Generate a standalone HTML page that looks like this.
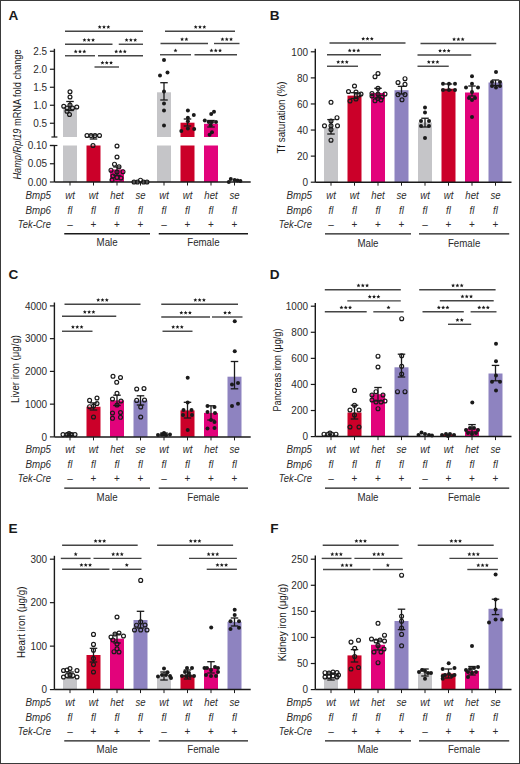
<!DOCTYPE html>
<html><head><meta charset="utf-8"><style>
html,body{margin:0;padding:0;background:#fff;}
body{width:520px;height:764px;overflow:hidden;position:relative;}
svg{display:block;position:absolute;left:0;top:0;}
text{font-family:"Liberation Sans",sans-serif;}
</style></head><body>
<svg width="520" height="764" viewBox="0 0 520 764">
<rect x="0" y="0" width="520" height="764" fill="#fff"/>
<text x="8.40" y="19.90" font-size="13.6" text-anchor="start" font-weight="bold" fill="#1a1a1a" >A</text>
<line x1="54.40" y1="48.80" x2="54.40" y2="137.00" stroke="#1a1a1a" stroke-width="1.4"/>
<line x1="49.90" y1="51.25" x2="54.40" y2="51.25" stroke="#1a1a1a" stroke-width="1.2"/>
<text transform="translate(47.10,54.95) scale(0.95,1)" font-size="10.5" text-anchor="end" fill="#2b2b2b" >2.5</text>
<line x1="49.90" y1="69.25" x2="54.40" y2="69.25" stroke="#1a1a1a" stroke-width="1.2"/>
<text transform="translate(47.10,72.95) scale(0.95,1)" font-size="10.5" text-anchor="end" fill="#2b2b2b" >2.0</text>
<line x1="49.90" y1="87.25" x2="54.40" y2="87.25" stroke="#1a1a1a" stroke-width="1.2"/>
<text transform="translate(47.10,90.95) scale(0.95,1)" font-size="10.5" text-anchor="end" fill="#2b2b2b" >1.5</text>
<line x1="49.90" y1="105.25" x2="54.40" y2="105.25" stroke="#1a1a1a" stroke-width="1.2"/>
<text transform="translate(47.10,108.95) scale(0.95,1)" font-size="10.5" text-anchor="end" fill="#2b2b2b" >1.0</text>
<line x1="49.90" y1="123.25" x2="54.40" y2="123.25" stroke="#1a1a1a" stroke-width="1.2"/>
<text transform="translate(47.10,126.95) scale(0.95,1)" font-size="10.5" text-anchor="end" fill="#2b2b2b" >0.5</text>
<line x1="51.40" y1="137.00" x2="57.40" y2="137.00" stroke="#1a1a1a" stroke-width="1.2"/>
<line x1="54.40" y1="145.50" x2="54.40" y2="182.00" stroke="#1a1a1a" stroke-width="1.4"/>
<line x1="49.90" y1="145.50" x2="57.40" y2="145.50" stroke="#1a1a1a" stroke-width="1.2"/>
<line x1="49.90" y1="145.50" x2="54.40" y2="145.50" stroke="#1a1a1a" stroke-width="1.2"/>
<text transform="translate(47.10,149.20) scale(0.95,1)" font-size="10.5" text-anchor="end" fill="#2b2b2b" >0.10</text>
<line x1="49.90" y1="163.75" x2="54.40" y2="163.75" stroke="#1a1a1a" stroke-width="1.2"/>
<text transform="translate(47.10,167.45) scale(0.95,1)" font-size="10.5" text-anchor="end" fill="#2b2b2b" >0.05</text>
<line x1="49.90" y1="182.00" x2="54.40" y2="182.00" stroke="#1a1a1a" stroke-width="1.2"/>
<text transform="translate(47.10,185.70) scale(0.95,1)" font-size="10.5" text-anchor="end" fill="#2b2b2b" >0.00</text>
<text transform="translate(21.00,114.50) rotate(-90)" font-size="11.2" text-anchor="middle" textLength="130" lengthAdjust="spacingAndGlyphs" fill="#1a1a1a"><tspan font-style="italic">Hamp/Rpl19</tspan> mRNA fold change</text>
<rect x="63.00" y="106.69" width="14.00" height="30.31" fill="#c5c5c8"/>
<rect x="63.00" y="145.50" width="14.00" height="36.50" fill="#c5c5c8"/>
<rect x="86.50" y="145.50" width="14.00" height="36.50" fill="#cb0029"/>
<rect x="110.00" y="169.50" width="14.00" height="12.50" fill="#e2037b"/>
<rect x="157.00" y="92.30" width="14.00" height="44.70" fill="#c5c5c8"/>
<rect x="157.00" y="145.50" width="14.00" height="36.50" fill="#c5c5c8"/>
<rect x="180.50" y="122.70" width="14.00" height="14.30" fill="#cb0029"/>
<rect x="180.50" y="145.50" width="14.00" height="36.50" fill="#cb0029"/>
<rect x="204.00" y="123.80" width="14.00" height="13.20" fill="#e2037b"/>
<rect x="204.00" y="145.50" width="14.00" height="36.50" fill="#e2037b"/>
<line x1="54.40" y1="182.00" x2="250.70" y2="182.00" stroke="#1a1a1a" stroke-width="1.5"/>
<line x1="70.00" y1="182.00" x2="70.00" y2="185.50" stroke="#1a1a1a" stroke-width="1.0"/>
<line x1="93.50" y1="182.00" x2="93.50" y2="185.50" stroke="#1a1a1a" stroke-width="1.0"/>
<line x1="117.00" y1="182.00" x2="117.00" y2="185.50" stroke="#1a1a1a" stroke-width="1.0"/>
<line x1="140.50" y1="182.00" x2="140.50" y2="185.50" stroke="#1a1a1a" stroke-width="1.0"/>
<line x1="164.00" y1="182.00" x2="164.00" y2="185.50" stroke="#1a1a1a" stroke-width="1.0"/>
<line x1="187.50" y1="182.00" x2="187.50" y2="185.50" stroke="#1a1a1a" stroke-width="1.0"/>
<line x1="211.00" y1="182.00" x2="211.00" y2="185.50" stroke="#1a1a1a" stroke-width="1.0"/>
<line x1="234.50" y1="182.00" x2="234.50" y2="185.50" stroke="#1a1a1a" stroke-width="1.0"/>
<text transform="translate(51.00,199.20) scale(0.93,1)" font-size="10.5" text-anchor="end" font-style="italic" fill="#2b2b2b" >Bmp5</text>
<text transform="translate(51.00,213.70) scale(0.93,1)" font-size="10.5" text-anchor="end" font-style="italic" fill="#2b2b2b" >Bmp6</text>
<text transform="translate(51.00,228.00) scale(0.9,1)" font-size="10.5" text-anchor="end" font-style="italic" fill="#2b2b2b" >Tek-Cre</text>
<text transform="translate(70.00,199.20) scale(0.93,1)" font-size="10.3" text-anchor="middle" font-style="italic" fill="#2b2b2b" >wt</text>
<text transform="translate(70.00,213.70) scale(0.93,1)" font-size="10.3" text-anchor="middle" font-style="italic" fill="#2b2b2b" >fl</text>
<text x="70.00" y="228.00" font-size="10" text-anchor="middle" fill="#2b2b2b" >–</text>
<text transform="translate(93.50,199.20) scale(0.93,1)" font-size="10.3" text-anchor="middle" font-style="italic" fill="#2b2b2b" >wt</text>
<text transform="translate(93.50,213.70) scale(0.93,1)" font-size="10.3" text-anchor="middle" font-style="italic" fill="#2b2b2b" >fl</text>
<text x="93.50" y="228.00" font-size="10" text-anchor="middle" fill="#2b2b2b" >+</text>
<text transform="translate(117.00,199.20) scale(0.93,1)" font-size="10.3" text-anchor="middle" font-style="italic" fill="#2b2b2b" >het</text>
<text transform="translate(117.00,213.70) scale(0.93,1)" font-size="10.3" text-anchor="middle" font-style="italic" fill="#2b2b2b" >fl</text>
<text x="117.00" y="228.00" font-size="10" text-anchor="middle" fill="#2b2b2b" >+</text>
<text transform="translate(140.50,199.20) scale(0.93,1)" font-size="10.3" text-anchor="middle" font-style="italic" fill="#2b2b2b" >se</text>
<text transform="translate(140.50,213.70) scale(0.93,1)" font-size="10.3" text-anchor="middle" font-style="italic" fill="#2b2b2b" >fl</text>
<text x="140.50" y="228.00" font-size="10" text-anchor="middle" fill="#2b2b2b" >+</text>
<text transform="translate(164.00,199.20) scale(0.93,1)" font-size="10.3" text-anchor="middle" font-style="italic" fill="#2b2b2b" >wt</text>
<text transform="translate(164.00,213.70) scale(0.93,1)" font-size="10.3" text-anchor="middle" font-style="italic" fill="#2b2b2b" >fl</text>
<text x="164.00" y="228.00" font-size="10" text-anchor="middle" fill="#2b2b2b" >–</text>
<text transform="translate(187.50,199.20) scale(0.93,1)" font-size="10.3" text-anchor="middle" font-style="italic" fill="#2b2b2b" >wt</text>
<text transform="translate(187.50,213.70) scale(0.93,1)" font-size="10.3" text-anchor="middle" font-style="italic" fill="#2b2b2b" >fl</text>
<text x="187.50" y="228.00" font-size="10" text-anchor="middle" fill="#2b2b2b" >+</text>
<text transform="translate(211.00,199.20) scale(0.93,1)" font-size="10.3" text-anchor="middle" font-style="italic" fill="#2b2b2b" >het</text>
<text transform="translate(211.00,213.70) scale(0.93,1)" font-size="10.3" text-anchor="middle" font-style="italic" fill="#2b2b2b" >fl</text>
<text x="211.00" y="228.00" font-size="10" text-anchor="middle" fill="#2b2b2b" >+</text>
<text transform="translate(234.50,199.20) scale(0.93,1)" font-size="10.3" text-anchor="middle" font-style="italic" fill="#2b2b2b" >se</text>
<text transform="translate(234.50,213.70) scale(0.93,1)" font-size="10.3" text-anchor="middle" font-style="italic" fill="#2b2b2b" >fl</text>
<text x="234.50" y="228.00" font-size="10" text-anchor="middle" fill="#2b2b2b" >+</text>
<line x1="64.25" y1="233.75" x2="150.00" y2="233.75" stroke="#1a1a1a" stroke-width="1.3"/>
<line x1="158.75" y1="233.75" x2="248.00" y2="233.75" stroke="#1a1a1a" stroke-width="1.3"/>
<text transform="translate(107.12,246.35) scale(0.9,1)" font-size="10.8" text-anchor="middle" fill="#2b2b2b" >Male</text>
<text transform="translate(203.38,246.35) scale(0.9,1)" font-size="10.8" text-anchor="middle" fill="#2b2b2b" >Female</text>
<line x1="70.00" y1="101.50" x2="70.00" y2="110.50" stroke="#1a1a1a" stroke-width="1.3"/>
<line x1="66.25" y1="101.50" x2="73.75" y2="101.50" stroke="#1a1a1a" stroke-width="1.3"/>
<line x1="66.25" y1="110.50" x2="73.75" y2="110.50" stroke="#1a1a1a" stroke-width="1.3"/>
<line x1="93.50" y1="135.00" x2="93.50" y2="139.00" stroke="#1a1a1a" stroke-width="1.3"/>
<line x1="89.75" y1="135.00" x2="97.25" y2="135.00" stroke="#1a1a1a" stroke-width="1.3"/>
<line x1="89.75" y1="139.00" x2="97.25" y2="139.00" stroke="#1a1a1a" stroke-width="1.3"/>
<line x1="117.00" y1="167.00" x2="117.00" y2="175.50" stroke="#1a1a1a" stroke-width="1.3"/>
<line x1="113.25" y1="167.00" x2="120.75" y2="167.00" stroke="#1a1a1a" stroke-width="1.3"/>
<line x1="113.25" y1="175.50" x2="120.75" y2="175.50" stroke="#1a1a1a" stroke-width="1.3"/>
<line x1="164.00" y1="82.70" x2="164.00" y2="100.00" stroke="#1a1a1a" stroke-width="1.3"/>
<line x1="160.25" y1="82.70" x2="167.75" y2="82.70" stroke="#1a1a1a" stroke-width="1.3"/>
<line x1="160.25" y1="100.00" x2="167.75" y2="100.00" stroke="#1a1a1a" stroke-width="1.3"/>
<line x1="187.50" y1="119.00" x2="187.50" y2="126.00" stroke="#1a1a1a" stroke-width="1.3"/>
<line x1="183.75" y1="119.00" x2="191.25" y2="119.00" stroke="#1a1a1a" stroke-width="1.3"/>
<line x1="183.75" y1="126.00" x2="191.25" y2="126.00" stroke="#1a1a1a" stroke-width="1.3"/>
<line x1="211.00" y1="120.50" x2="211.00" y2="127.00" stroke="#1a1a1a" stroke-width="1.3"/>
<line x1="207.25" y1="120.50" x2="214.75" y2="120.50" stroke="#1a1a1a" stroke-width="1.3"/>
<line x1="207.25" y1="127.00" x2="214.75" y2="127.00" stroke="#1a1a1a" stroke-width="1.3"/>
<circle cx="70.00" cy="91.75" r="1.95" fill="none" stroke="#1a1a1a" stroke-width="1.2"/>
<circle cx="70.00" cy="97.00" r="1.95" fill="none" stroke="#1a1a1a" stroke-width="1.2"/>
<circle cx="63.75" cy="106.25" r="1.95" fill="none" stroke="#1a1a1a" stroke-width="1.2"/>
<circle cx="67.00" cy="108.00" r="1.95" fill="none" stroke="#1a1a1a" stroke-width="1.2"/>
<circle cx="70.00" cy="105.00" r="1.95" fill="none" stroke="#1a1a1a" stroke-width="1.2"/>
<circle cx="72.50" cy="108.00" r="1.95" fill="none" stroke="#1a1a1a" stroke-width="1.2"/>
<circle cx="76.75" cy="107.00" r="1.95" fill="none" stroke="#1a1a1a" stroke-width="1.2"/>
<circle cx="67.00" cy="111.25" r="1.95" fill="none" stroke="#1a1a1a" stroke-width="1.2"/>
<circle cx="69.50" cy="114.50" r="1.95" fill="none" stroke="#1a1a1a" stroke-width="1.2"/>
<circle cx="87.00" cy="135.50" r="1.95" fill="none" stroke="#1a1a1a" stroke-width="1.2"/>
<circle cx="91.00" cy="135.50" r="1.95" fill="none" stroke="#1a1a1a" stroke-width="1.2"/>
<circle cx="95.00" cy="135.50" r="1.95" fill="none" stroke="#1a1a1a" stroke-width="1.2"/>
<circle cx="99.50" cy="135.50" r="1.95" fill="none" stroke="#1a1a1a" stroke-width="1.2"/>
<circle cx="93.00" cy="145.50" r="1.95" fill="none" stroke="#1a1a1a" stroke-width="1.2"/>
<circle cx="117.00" cy="146.00" r="1.95" fill="none" stroke="#1a1a1a" stroke-width="1.2"/>
<circle cx="117.00" cy="157.00" r="1.95" fill="none" stroke="#1a1a1a" stroke-width="1.2"/>
<circle cx="114.50" cy="164.20" r="1.95" fill="none" stroke="#1a1a1a" stroke-width="1.2"/>
<circle cx="119.00" cy="166.80" r="1.95" fill="none" stroke="#1a1a1a" stroke-width="1.2"/>
<circle cx="111.00" cy="170.20" r="1.95" fill="none" stroke="#1a1a1a" stroke-width="1.2"/>
<circle cx="123.00" cy="171.70" r="1.95" fill="none" stroke="#1a1a1a" stroke-width="1.2"/>
<circle cx="117.00" cy="172.00" r="1.95" fill="none" stroke="#1a1a1a" stroke-width="1.2"/>
<circle cx="113.00" cy="176.00" r="1.95" fill="none" stroke="#1a1a1a" stroke-width="1.2"/>
<circle cx="121.00" cy="178.00" r="1.95" fill="none" stroke="#1a1a1a" stroke-width="1.2"/>
<circle cx="117.00" cy="177.50" r="1.95" fill="none" stroke="#1a1a1a" stroke-width="1.2"/>
<circle cx="112.00" cy="180.00" r="1.95" fill="none" stroke="#1a1a1a" stroke-width="1.2"/>
<circle cx="134.00" cy="182.00" r="1.95" fill="none" stroke="#1a1a1a" stroke-width="1.2"/>
<circle cx="137.50" cy="182.00" r="1.95" fill="none" stroke="#1a1a1a" stroke-width="1.2"/>
<circle cx="140.50" cy="180.20" r="1.95" fill="none" stroke="#1a1a1a" stroke-width="1.2"/>
<circle cx="143.50" cy="182.00" r="1.95" fill="none" stroke="#1a1a1a" stroke-width="1.2"/>
<circle cx="147.00" cy="182.00" r="1.95" fill="none" stroke="#1a1a1a" stroke-width="1.2"/>
<circle cx="164.00" cy="60.00" r="2.0" fill="#1a1a1a"/>
<circle cx="160.00" cy="75.50" r="2.0" fill="#1a1a1a"/>
<circle cx="167.50" cy="72.50" r="2.0" fill="#1a1a1a"/>
<circle cx="164.00" cy="91.50" r="2.0" fill="#1a1a1a"/>
<circle cx="164.00" cy="103.60" r="2.0" fill="#1a1a1a"/>
<circle cx="164.00" cy="110.40" r="2.0" fill="#1a1a1a"/>
<circle cx="164.00" cy="125.60" r="2.0" fill="#1a1a1a"/>
<circle cx="187.90" cy="110.40" r="2.0" fill="#1a1a1a"/>
<circle cx="193.80" cy="115.00" r="2.0" fill="#1a1a1a"/>
<circle cx="187.90" cy="117.70" r="2.0" fill="#1a1a1a"/>
<circle cx="187.90" cy="121.30" r="2.0" fill="#1a1a1a"/>
<circle cx="181.30" cy="131.00" r="2.0" fill="#1a1a1a"/>
<circle cx="187.90" cy="128.50" r="2.0" fill="#1a1a1a"/>
<circle cx="194.20" cy="129.00" r="2.0" fill="#1a1a1a"/>
<circle cx="214.00" cy="111.70" r="2.0" fill="#1a1a1a"/>
<circle cx="211.20" cy="114.00" r="2.0" fill="#1a1a1a"/>
<circle cx="204.80" cy="120.40" r="2.0" fill="#1a1a1a"/>
<circle cx="208.70" cy="122.00" r="2.0" fill="#1a1a1a"/>
<circle cx="212.00" cy="122.00" r="2.0" fill="#1a1a1a"/>
<circle cx="216.00" cy="122.00" r="2.0" fill="#1a1a1a"/>
<circle cx="210.60" cy="125.20" r="2.0" fill="#1a1a1a"/>
<circle cx="212.00" cy="132.30" r="2.0" fill="#1a1a1a"/>
<circle cx="209.60" cy="134.80" r="2.0" fill="#1a1a1a"/>
<circle cx="228.80" cy="182.00" r="2.0" fill="#1a1a1a"/>
<circle cx="230.80" cy="179.00" r="2.0" fill="#1a1a1a"/>
<circle cx="234.60" cy="180.00" r="2.0" fill="#1a1a1a"/>
<circle cx="237.50" cy="180.50" r="2.0" fill="#1a1a1a"/>
<circle cx="240.40" cy="181.00" r="2.0" fill="#1a1a1a"/>
<line x1="65.00" y1="31.25" x2="143.00" y2="31.25" stroke="#444" stroke-width="1.4"/>
<polygon points="99.70,24.95 100.26,26.28 101.70,26.40 100.60,27.34 100.93,28.75 99.70,28.00 98.47,28.75 98.80,27.34 97.70,26.40 99.14,26.28" fill="#1a1a1a"/>
<polygon points="104.00,24.95 104.56,26.28 106.00,26.40 104.90,27.34 105.23,28.75 104.00,28.00 102.77,28.75 103.10,27.34 102.00,26.40 103.44,26.28" fill="#1a1a1a"/>
<polygon points="108.30,24.95 108.86,26.28 110.30,26.40 109.20,27.34 109.53,28.75 108.30,28.00 107.07,28.75 107.40,27.34 106.30,26.40 107.74,26.28" fill="#1a1a1a"/>
<line x1="65.00" y1="44.25" x2="112.50" y2="44.25" stroke="#444" stroke-width="1.4"/>
<polygon points="84.45,37.95 85.01,39.28 86.45,39.40 85.35,40.34 85.68,41.75 84.45,41.00 83.22,41.75 83.55,40.34 82.45,39.40 83.89,39.28" fill="#1a1a1a"/>
<polygon points="88.75,37.95 89.31,39.28 90.75,39.40 89.65,40.34 89.98,41.75 88.75,41.00 87.52,41.75 87.85,40.34 86.75,39.40 88.19,39.28" fill="#1a1a1a"/>
<polygon points="93.05,37.95 93.61,39.28 95.05,39.40 93.95,40.34 94.28,41.75 93.05,41.00 91.82,41.75 92.15,40.34 91.05,39.40 92.49,39.28" fill="#1a1a1a"/>
<line x1="118.75" y1="44.25" x2="143.00" y2="44.25" stroke="#444" stroke-width="1.4"/>
<polygon points="126.58,37.95 127.13,39.28 128.57,39.40 127.48,40.34 127.81,41.75 126.58,41.00 125.34,41.75 125.67,40.34 124.58,39.40 126.02,39.28" fill="#1a1a1a"/>
<polygon points="130.88,37.95 131.43,39.28 132.87,39.40 131.78,40.34 132.11,41.75 130.88,41.00 129.64,41.75 129.97,40.34 128.88,39.40 130.32,39.28" fill="#1a1a1a"/>
<polygon points="135.18,37.95 135.73,39.28 137.17,39.40 136.08,40.34 136.41,41.75 135.18,41.00 133.94,41.75 134.27,40.34 133.18,39.40 134.62,39.28" fill="#1a1a1a"/>
<line x1="65.00" y1="55.75" x2="95.00" y2="55.75" stroke="#444" stroke-width="1.4"/>
<polygon points="75.70,49.45 76.26,50.78 77.70,50.90 76.60,51.84 76.93,53.25 75.70,52.50 74.47,53.25 74.80,51.84 73.70,50.90 75.14,50.78" fill="#1a1a1a"/>
<polygon points="80.00,49.45 80.56,50.78 82.00,50.90 80.90,51.84 81.23,53.25 80.00,52.50 78.77,53.25 79.10,51.84 78.00,50.90 79.44,50.78" fill="#1a1a1a"/>
<polygon points="84.30,49.45 84.86,50.78 86.30,50.90 85.20,51.84 85.53,53.25 84.30,52.50 83.07,53.25 83.40,51.84 82.30,50.90 83.74,50.78" fill="#1a1a1a"/>
<line x1="98.00" y1="55.75" x2="143.00" y2="55.75" stroke="#444" stroke-width="1.4"/>
<polygon points="116.20,49.45 116.76,50.78 118.20,50.90 117.10,51.84 117.43,53.25 116.20,52.50 114.97,53.25 115.30,51.84 114.20,50.90 115.64,50.78" fill="#1a1a1a"/>
<polygon points="120.50,49.45 121.06,50.78 122.50,50.90 121.40,51.84 121.73,53.25 120.50,52.50 119.27,53.25 119.60,51.84 118.50,50.90 119.94,50.78" fill="#1a1a1a"/>
<polygon points="124.80,49.45 125.36,50.78 126.80,50.90 125.70,51.84 126.03,53.25 124.80,52.50 123.57,53.25 123.90,51.84 122.80,50.90 124.24,50.78" fill="#1a1a1a"/>
<line x1="94.50" y1="67.00" x2="119.00" y2="67.00" stroke="#444" stroke-width="1.4"/>
<polygon points="102.45,60.70 103.01,62.03 104.45,62.15 103.35,63.09 103.68,64.50 102.45,63.75 101.22,64.50 101.55,63.09 100.45,62.15 101.89,62.03" fill="#1a1a1a"/>
<polygon points="106.75,60.70 107.31,62.03 108.75,62.15 107.65,63.09 107.98,64.50 106.75,63.75 105.52,64.50 105.85,63.09 104.75,62.15 106.19,62.03" fill="#1a1a1a"/>
<polygon points="111.05,60.70 111.61,62.03 113.05,62.15 111.95,63.09 112.28,64.50 111.05,63.75 109.82,64.50 110.15,63.09 109.05,62.15 110.49,62.03" fill="#1a1a1a"/>
<line x1="165.00" y1="31.25" x2="235.00" y2="31.25" stroke="#444" stroke-width="1.4"/>
<polygon points="195.70,24.95 196.26,26.28 197.70,26.40 196.60,27.34 196.93,28.75 195.70,28.00 194.47,28.75 194.80,27.34 193.70,26.40 195.14,26.28" fill="#1a1a1a"/>
<polygon points="200.00,24.95 200.56,26.28 202.00,26.40 200.90,27.34 201.23,28.75 200.00,28.00 198.77,28.75 199.10,27.34 198.00,26.40 199.44,26.28" fill="#1a1a1a"/>
<polygon points="204.30,24.95 204.86,26.28 206.30,26.40 205.20,27.34 205.53,28.75 204.30,28.00 203.07,28.75 203.40,27.34 202.30,26.40 203.74,26.28" fill="#1a1a1a"/>
<line x1="160.50" y1="43.50" x2="208.00" y2="43.50" stroke="#444" stroke-width="1.4"/>
<polygon points="182.10,37.20 182.66,38.53 184.10,38.65 183.00,39.59 183.33,41.00 182.10,40.25 180.87,41.00 181.20,39.59 180.10,38.65 181.54,38.53" fill="#1a1a1a"/>
<polygon points="186.40,37.20 186.96,38.53 188.40,38.65 187.30,39.59 187.63,41.00 186.40,40.25 185.17,41.00 185.50,39.59 184.40,38.65 185.84,38.53" fill="#1a1a1a"/>
<line x1="214.00" y1="43.50" x2="239.50" y2="43.50" stroke="#444" stroke-width="1.4"/>
<polygon points="222.45,37.20 223.01,38.53 224.45,38.65 223.35,39.59 223.68,41.00 222.45,40.25 221.22,41.00 221.55,39.59 220.45,38.65 221.89,38.53" fill="#1a1a1a"/>
<polygon points="226.75,37.20 227.31,38.53 228.75,38.65 227.65,39.59 227.98,41.00 226.75,40.25 225.52,41.00 225.85,39.59 224.75,38.65 226.19,38.53" fill="#1a1a1a"/>
<polygon points="231.05,37.20 231.61,38.53 233.05,38.65 231.95,39.59 232.28,41.00 231.05,40.25 229.82,41.00 230.15,39.59 229.05,38.65 230.49,38.53" fill="#1a1a1a"/>
<line x1="160.00" y1="54.75" x2="191.00" y2="54.75" stroke="#444" stroke-width="1.4"/>
<polygon points="175.50,48.45 176.06,49.78 177.50,49.90 176.40,50.84 176.73,52.25 175.50,51.50 174.27,52.25 174.60,50.84 173.50,49.90 174.94,49.78" fill="#1a1a1a"/>
<line x1="194.50" y1="54.75" x2="237.00" y2="54.75" stroke="#444" stroke-width="1.4"/>
<polygon points="211.45,48.45 212.01,49.78 213.45,49.90 212.35,50.84 212.68,52.25 211.45,51.50 210.22,52.25 210.55,50.84 209.45,49.90 210.89,49.78" fill="#1a1a1a"/>
<polygon points="215.75,48.45 216.31,49.78 217.75,49.90 216.65,50.84 216.98,52.25 215.75,51.50 214.52,52.25 214.85,50.84 213.75,49.90 215.19,49.78" fill="#1a1a1a"/>
<polygon points="220.05,48.45 220.61,49.78 222.05,49.90 220.95,50.84 221.28,52.25 220.05,51.50 218.82,52.25 219.15,50.84 218.05,49.90 219.49,49.78" fill="#1a1a1a"/>
<text x="269.80" y="20.10" font-size="13.6" text-anchor="start" font-weight="bold" fill="#1a1a1a" >B</text>
<line x1="315.30" y1="48.80" x2="315.30" y2="182.20" stroke="#1a1a1a" stroke-width="1.4"/>
<line x1="310.80" y1="182.20" x2="315.30" y2="182.20" stroke="#1a1a1a" stroke-width="1.2"/>
<text transform="translate(308.00,185.90) scale(0.95,1)" font-size="10.5" text-anchor="end" fill="#2b2b2b" >0</text>
<line x1="310.80" y1="156.12" x2="315.30" y2="156.12" stroke="#1a1a1a" stroke-width="1.2"/>
<text transform="translate(308.00,159.82) scale(0.95,1)" font-size="10.5" text-anchor="end" fill="#2b2b2b" >20</text>
<line x1="310.80" y1="130.04" x2="315.30" y2="130.04" stroke="#1a1a1a" stroke-width="1.2"/>
<text transform="translate(308.00,133.74) scale(0.95,1)" font-size="10.5" text-anchor="end" fill="#2b2b2b" >40</text>
<line x1="310.80" y1="103.96" x2="315.30" y2="103.96" stroke="#1a1a1a" stroke-width="1.2"/>
<text transform="translate(308.00,107.66) scale(0.95,1)" font-size="10.5" text-anchor="end" fill="#2b2b2b" >60</text>
<line x1="310.80" y1="77.88" x2="315.30" y2="77.88" stroke="#1a1a1a" stroke-width="1.2"/>
<text transform="translate(308.00,81.58) scale(0.95,1)" font-size="10.5" text-anchor="end" fill="#2b2b2b" >80</text>
<line x1="310.80" y1="51.80" x2="315.30" y2="51.80" stroke="#1a1a1a" stroke-width="1.2"/>
<text transform="translate(308.00,55.50) scale(0.95,1)" font-size="10.5" text-anchor="end" fill="#2b2b2b" >100</text>
<text transform="translate(284.80,117.60) rotate(-90)" font-size="11.2" text-anchor="middle" textLength="72" lengthAdjust="spacingAndGlyphs" fill="#1a1a1a">Tf saturation (%)</text>
<rect x="324.00" y="127.70" width="14.00" height="54.50" fill="#c5c5c8"/>
<rect x="347.50" y="95.60" width="14.00" height="86.60" fill="#cb0029"/>
<rect x="371.00" y="93.00" width="14.00" height="89.20" fill="#e2037b"/>
<rect x="394.50" y="90.20" width="14.00" height="92.00" fill="#8e83c0"/>
<rect x="418.00" y="122.50" width="14.00" height="59.70" fill="#c5c5c8"/>
<rect x="441.50" y="88.75" width="14.00" height="93.45" fill="#cb0029"/>
<rect x="465.00" y="92.50" width="14.00" height="89.70" fill="#e2037b"/>
<rect x="488.50" y="82.50" width="14.00" height="99.70" fill="#8e83c0"/>
<line x1="315.30" y1="182.20" x2="511.50" y2="182.20" stroke="#1a1a1a" stroke-width="1.5"/>
<line x1="331.00" y1="182.20" x2="331.00" y2="185.70" stroke="#1a1a1a" stroke-width="1.0"/>
<line x1="354.50" y1="182.20" x2="354.50" y2="185.70" stroke="#1a1a1a" stroke-width="1.0"/>
<line x1="378.00" y1="182.20" x2="378.00" y2="185.70" stroke="#1a1a1a" stroke-width="1.0"/>
<line x1="401.50" y1="182.20" x2="401.50" y2="185.70" stroke="#1a1a1a" stroke-width="1.0"/>
<line x1="425.00" y1="182.20" x2="425.00" y2="185.70" stroke="#1a1a1a" stroke-width="1.0"/>
<line x1="448.50" y1="182.20" x2="448.50" y2="185.70" stroke="#1a1a1a" stroke-width="1.0"/>
<line x1="472.00" y1="182.20" x2="472.00" y2="185.70" stroke="#1a1a1a" stroke-width="1.0"/>
<line x1="495.50" y1="182.20" x2="495.50" y2="185.70" stroke="#1a1a1a" stroke-width="1.0"/>
<text transform="translate(312.00,199.40) scale(0.93,1)" font-size="10.5" text-anchor="end" font-style="italic" fill="#2b2b2b" >Bmp5</text>
<text transform="translate(312.00,213.90) scale(0.93,1)" font-size="10.5" text-anchor="end" font-style="italic" fill="#2b2b2b" >Bmp6</text>
<text transform="translate(312.00,228.20) scale(0.9,1)" font-size="10.5" text-anchor="end" font-style="italic" fill="#2b2b2b" >Tek-Cre</text>
<text transform="translate(331.00,199.40) scale(0.93,1)" font-size="10.3" text-anchor="middle" font-style="italic" fill="#2b2b2b" >wt</text>
<text transform="translate(331.00,213.90) scale(0.93,1)" font-size="10.3" text-anchor="middle" font-style="italic" fill="#2b2b2b" >fl</text>
<text x="331.00" y="228.20" font-size="10" text-anchor="middle" fill="#2b2b2b" >–</text>
<text transform="translate(354.50,199.40) scale(0.93,1)" font-size="10.3" text-anchor="middle" font-style="italic" fill="#2b2b2b" >wt</text>
<text transform="translate(354.50,213.90) scale(0.93,1)" font-size="10.3" text-anchor="middle" font-style="italic" fill="#2b2b2b" >fl</text>
<text x="354.50" y="228.20" font-size="10" text-anchor="middle" fill="#2b2b2b" >+</text>
<text transform="translate(378.00,199.40) scale(0.93,1)" font-size="10.3" text-anchor="middle" font-style="italic" fill="#2b2b2b" >het</text>
<text transform="translate(378.00,213.90) scale(0.93,1)" font-size="10.3" text-anchor="middle" font-style="italic" fill="#2b2b2b" >fl</text>
<text x="378.00" y="228.20" font-size="10" text-anchor="middle" fill="#2b2b2b" >+</text>
<text transform="translate(401.50,199.40) scale(0.93,1)" font-size="10.3" text-anchor="middle" font-style="italic" fill="#2b2b2b" >se</text>
<text transform="translate(401.50,213.90) scale(0.93,1)" font-size="10.3" text-anchor="middle" font-style="italic" fill="#2b2b2b" >fl</text>
<text x="401.50" y="228.20" font-size="10" text-anchor="middle" fill="#2b2b2b" >+</text>
<text transform="translate(425.00,199.40) scale(0.93,1)" font-size="10.3" text-anchor="middle" font-style="italic" fill="#2b2b2b" >wt</text>
<text transform="translate(425.00,213.90) scale(0.93,1)" font-size="10.3" text-anchor="middle" font-style="italic" fill="#2b2b2b" >fl</text>
<text x="425.00" y="228.20" font-size="10" text-anchor="middle" fill="#2b2b2b" >–</text>
<text transform="translate(448.50,199.40) scale(0.93,1)" font-size="10.3" text-anchor="middle" font-style="italic" fill="#2b2b2b" >wt</text>
<text transform="translate(448.50,213.90) scale(0.93,1)" font-size="10.3" text-anchor="middle" font-style="italic" fill="#2b2b2b" >fl</text>
<text x="448.50" y="228.20" font-size="10" text-anchor="middle" fill="#2b2b2b" >+</text>
<text transform="translate(472.00,199.40) scale(0.93,1)" font-size="10.3" text-anchor="middle" font-style="italic" fill="#2b2b2b" >het</text>
<text transform="translate(472.00,213.90) scale(0.93,1)" font-size="10.3" text-anchor="middle" font-style="italic" fill="#2b2b2b" >fl</text>
<text x="472.00" y="228.20" font-size="10" text-anchor="middle" fill="#2b2b2b" >+</text>
<text transform="translate(495.50,199.40) scale(0.93,1)" font-size="10.3" text-anchor="middle" font-style="italic" fill="#2b2b2b" >se</text>
<text transform="translate(495.50,213.90) scale(0.93,1)" font-size="10.3" text-anchor="middle" font-style="italic" fill="#2b2b2b" >fl</text>
<text x="495.50" y="228.20" font-size="10" text-anchor="middle" fill="#2b2b2b" >+</text>
<line x1="325.00" y1="233.95" x2="411.00" y2="233.95" stroke="#1a1a1a" stroke-width="1.3"/>
<line x1="419.00" y1="233.95" x2="509.20" y2="233.95" stroke="#1a1a1a" stroke-width="1.3"/>
<text transform="translate(368.00,246.55) scale(0.9,1)" font-size="10.8" text-anchor="middle" fill="#2b2b2b" >Male</text>
<text transform="translate(464.10,246.55) scale(0.9,1)" font-size="10.8" text-anchor="middle" fill="#2b2b2b" >Female</text>
<line x1="331.00" y1="119.60" x2="331.00" y2="134.00" stroke="#1a1a1a" stroke-width="1.3"/>
<line x1="327.25" y1="119.60" x2="334.75" y2="119.60" stroke="#1a1a1a" stroke-width="1.3"/>
<line x1="327.25" y1="134.00" x2="334.75" y2="134.00" stroke="#1a1a1a" stroke-width="1.3"/>
<line x1="354.50" y1="92.70" x2="354.50" y2="98.50" stroke="#1a1a1a" stroke-width="1.3"/>
<line x1="350.75" y1="92.70" x2="358.25" y2="92.70" stroke="#1a1a1a" stroke-width="1.3"/>
<line x1="350.75" y1="98.50" x2="358.25" y2="98.50" stroke="#1a1a1a" stroke-width="1.3"/>
<line x1="378.00" y1="88.30" x2="378.00" y2="98.00" stroke="#1a1a1a" stroke-width="1.3"/>
<line x1="374.25" y1="88.30" x2="381.75" y2="88.30" stroke="#1a1a1a" stroke-width="1.3"/>
<line x1="374.25" y1="98.00" x2="381.75" y2="98.00" stroke="#1a1a1a" stroke-width="1.3"/>
<line x1="401.50" y1="86.30" x2="401.50" y2="94.00" stroke="#1a1a1a" stroke-width="1.3"/>
<line x1="397.75" y1="86.30" x2="405.25" y2="86.30" stroke="#1a1a1a" stroke-width="1.3"/>
<line x1="397.75" y1="94.00" x2="405.25" y2="94.00" stroke="#1a1a1a" stroke-width="1.3"/>
<line x1="425.00" y1="118.25" x2="425.00" y2="127.00" stroke="#1a1a1a" stroke-width="1.3"/>
<line x1="421.25" y1="118.25" x2="428.75" y2="118.25" stroke="#1a1a1a" stroke-width="1.3"/>
<line x1="421.25" y1="127.00" x2="428.75" y2="127.00" stroke="#1a1a1a" stroke-width="1.3"/>
<line x1="448.50" y1="84.00" x2="448.50" y2="90.00" stroke="#1a1a1a" stroke-width="1.3"/>
<line x1="444.75" y1="84.00" x2="452.25" y2="84.00" stroke="#1a1a1a" stroke-width="1.3"/>
<line x1="444.75" y1="90.00" x2="452.25" y2="90.00" stroke="#1a1a1a" stroke-width="1.3"/>
<line x1="472.00" y1="86.00" x2="472.00" y2="96.00" stroke="#1a1a1a" stroke-width="1.3"/>
<line x1="468.25" y1="86.00" x2="475.75" y2="86.00" stroke="#1a1a1a" stroke-width="1.3"/>
<line x1="468.25" y1="96.00" x2="475.75" y2="96.00" stroke="#1a1a1a" stroke-width="1.3"/>
<line x1="495.50" y1="80.00" x2="495.50" y2="85.50" stroke="#1a1a1a" stroke-width="1.3"/>
<line x1="491.75" y1="80.00" x2="499.25" y2="80.00" stroke="#1a1a1a" stroke-width="1.3"/>
<line x1="491.75" y1="85.50" x2="499.25" y2="85.50" stroke="#1a1a1a" stroke-width="1.3"/>
<circle cx="331.00" cy="102.30" r="1.95" fill="none" stroke="#1a1a1a" stroke-width="1.2"/>
<circle cx="337.00" cy="117.70" r="1.95" fill="none" stroke="#1a1a1a" stroke-width="1.2"/>
<circle cx="331.00" cy="121.00" r="1.95" fill="none" stroke="#1a1a1a" stroke-width="1.2"/>
<circle cx="324.50" cy="125.80" r="1.95" fill="none" stroke="#1a1a1a" stroke-width="1.2"/>
<circle cx="331.00" cy="125.80" r="1.95" fill="none" stroke="#1a1a1a" stroke-width="1.2"/>
<circle cx="337.50" cy="125.80" r="1.95" fill="none" stroke="#1a1a1a" stroke-width="1.2"/>
<circle cx="331.00" cy="129.60" r="1.95" fill="none" stroke="#1a1a1a" stroke-width="1.2"/>
<circle cx="331.00" cy="140.20" r="1.95" fill="none" stroke="#1a1a1a" stroke-width="1.2"/>
<circle cx="354.50" cy="86.00" r="1.95" fill="none" stroke="#1a1a1a" stroke-width="1.2"/>
<circle cx="348.50" cy="91.50" r="1.95" fill="none" stroke="#1a1a1a" stroke-width="1.2"/>
<circle cx="356.00" cy="92.00" r="1.95" fill="none" stroke="#1a1a1a" stroke-width="1.2"/>
<circle cx="361.00" cy="94.00" r="1.95" fill="none" stroke="#1a1a1a" stroke-width="1.2"/>
<circle cx="350.00" cy="101.00" r="1.95" fill="none" stroke="#1a1a1a" stroke-width="1.2"/>
<circle cx="356.00" cy="99.00" r="1.95" fill="none" stroke="#1a1a1a" stroke-width="1.2"/>
<circle cx="359.00" cy="95.00" r="1.95" fill="none" stroke="#1a1a1a" stroke-width="1.2"/>
<circle cx="378.00" cy="73.50" r="1.95" fill="none" stroke="#1a1a1a" stroke-width="1.2"/>
<circle cx="375.00" cy="76.70" r="1.95" fill="none" stroke="#1a1a1a" stroke-width="1.2"/>
<circle cx="378.00" cy="88.30" r="1.95" fill="none" stroke="#1a1a1a" stroke-width="1.2"/>
<circle cx="372.00" cy="93.60" r="1.95" fill="none" stroke="#1a1a1a" stroke-width="1.2"/>
<circle cx="378.00" cy="94.00" r="1.95" fill="none" stroke="#1a1a1a" stroke-width="1.2"/>
<circle cx="385.00" cy="94.00" r="1.95" fill="none" stroke="#1a1a1a" stroke-width="1.2"/>
<circle cx="372.00" cy="96.00" r="1.95" fill="none" stroke="#1a1a1a" stroke-width="1.2"/>
<circle cx="378.00" cy="98.50" r="1.95" fill="none" stroke="#1a1a1a" stroke-width="1.2"/>
<circle cx="382.00" cy="97.00" r="1.95" fill="none" stroke="#1a1a1a" stroke-width="1.2"/>
<circle cx="375.00" cy="100.80" r="1.95" fill="none" stroke="#1a1a1a" stroke-width="1.2"/>
<circle cx="381.00" cy="100.00" r="1.95" fill="none" stroke="#1a1a1a" stroke-width="1.2"/>
<circle cx="398.00" cy="82.50" r="1.95" fill="none" stroke="#1a1a1a" stroke-width="1.2"/>
<circle cx="405.00" cy="78.70" r="1.95" fill="none" stroke="#1a1a1a" stroke-width="1.2"/>
<circle cx="405.00" cy="84.40" r="1.95" fill="none" stroke="#1a1a1a" stroke-width="1.2"/>
<circle cx="398.00" cy="94.60" r="1.95" fill="none" stroke="#1a1a1a" stroke-width="1.2"/>
<circle cx="405.00" cy="94.60" r="1.95" fill="none" stroke="#1a1a1a" stroke-width="1.2"/>
<circle cx="402.00" cy="99.80" r="1.95" fill="none" stroke="#1a1a1a" stroke-width="1.2"/>
<circle cx="425.00" cy="107.50" r="2.0" fill="#1a1a1a"/>
<circle cx="425.00" cy="112.50" r="2.0" fill="#1a1a1a"/>
<circle cx="421.00" cy="121.00" r="2.0" fill="#1a1a1a"/>
<circle cx="429.00" cy="121.00" r="2.0" fill="#1a1a1a"/>
<circle cx="421.00" cy="126.00" r="2.0" fill="#1a1a1a"/>
<circle cx="429.00" cy="126.00" r="2.0" fill="#1a1a1a"/>
<circle cx="425.00" cy="138.00" r="2.0" fill="#1a1a1a"/>
<circle cx="443.00" cy="83.75" r="2.0" fill="#1a1a1a"/>
<circle cx="449.00" cy="83.75" r="2.0" fill="#1a1a1a"/>
<circle cx="455.00" cy="83.75" r="2.0" fill="#1a1a1a"/>
<circle cx="443.00" cy="90.00" r="2.0" fill="#1a1a1a"/>
<circle cx="449.00" cy="90.00" r="2.0" fill="#1a1a1a"/>
<circle cx="455.00" cy="90.00" r="2.0" fill="#1a1a1a"/>
<circle cx="472.00" cy="76.25" r="2.0" fill="#1a1a1a"/>
<circle cx="472.00" cy="83.75" r="2.0" fill="#1a1a1a"/>
<circle cx="466.00" cy="87.50" r="2.0" fill="#1a1a1a"/>
<circle cx="478.00" cy="87.50" r="2.0" fill="#1a1a1a"/>
<circle cx="472.00" cy="92.00" r="2.0" fill="#1a1a1a"/>
<circle cx="469.00" cy="98.00" r="2.0" fill="#1a1a1a"/>
<circle cx="475.00" cy="98.00" r="2.0" fill="#1a1a1a"/>
<circle cx="472.00" cy="100.00" r="2.0" fill="#1a1a1a"/>
<circle cx="472.00" cy="117.00" r="2.0" fill="#1a1a1a"/>
<circle cx="496.00" cy="72.00" r="2.0" fill="#1a1a1a"/>
<circle cx="492.00" cy="82.00" r="2.0" fill="#1a1a1a"/>
<circle cx="500.00" cy="82.00" r="2.0" fill="#1a1a1a"/>
<circle cx="492.00" cy="86.00" r="2.0" fill="#1a1a1a"/>
<circle cx="500.00" cy="86.00" r="2.0" fill="#1a1a1a"/>
<circle cx="496.00" cy="87.50" r="2.0" fill="#1a1a1a"/>
<line x1="329.50" y1="43.00" x2="405.50" y2="43.00" stroke="#444" stroke-width="1.4"/>
<polygon points="363.20,36.70 363.76,38.03 365.20,38.15 364.10,39.09 364.43,40.50 363.20,39.75 361.97,40.50 362.30,39.09 361.20,38.15 362.64,38.03" fill="#1a1a1a"/>
<polygon points="367.50,36.70 368.06,38.03 369.50,38.15 368.40,39.09 368.73,40.50 367.50,39.75 366.27,40.50 366.60,39.09 365.50,38.15 366.94,38.03" fill="#1a1a1a"/>
<polygon points="371.80,36.70 372.36,38.03 373.80,38.15 372.70,39.09 373.03,40.50 371.80,39.75 370.57,40.50 370.90,39.09 369.80,38.15 371.24,38.03" fill="#1a1a1a"/>
<line x1="327.00" y1="54.75" x2="381.00" y2="54.75" stroke="#444" stroke-width="1.4"/>
<polygon points="349.70,48.45 350.26,49.78 351.70,49.90 350.60,50.84 350.93,52.25 349.70,51.50 348.47,52.25 348.80,50.84 347.70,49.90 349.14,49.78" fill="#1a1a1a"/>
<polygon points="354.00,48.45 354.56,49.78 356.00,49.90 354.90,50.84 355.23,52.25 354.00,51.50 352.77,52.25 353.10,50.84 352.00,49.90 353.44,49.78" fill="#1a1a1a"/>
<polygon points="358.30,48.45 358.86,49.78 360.30,49.90 359.20,50.84 359.53,52.25 358.30,51.50 357.07,52.25 357.40,50.84 356.30,49.90 357.74,49.78" fill="#1a1a1a"/>
<line x1="327.00" y1="66.25" x2="358.00" y2="66.25" stroke="#444" stroke-width="1.4"/>
<polygon points="338.20,59.95 338.76,61.28 340.20,61.40 339.10,62.34 339.43,63.75 338.20,63.00 336.97,63.75 337.30,62.34 336.20,61.40 337.64,61.28" fill="#1a1a1a"/>
<polygon points="342.50,59.95 343.06,61.28 344.50,61.40 343.40,62.34 343.73,63.75 342.50,63.00 341.27,63.75 341.60,62.34 340.50,61.40 341.94,61.28" fill="#1a1a1a"/>
<polygon points="346.80,59.95 347.36,61.28 348.80,61.40 347.70,62.34 348.03,63.75 346.80,63.00 345.57,63.75 345.90,62.34 344.80,61.40 346.24,61.28" fill="#1a1a1a"/>
<line x1="420.50" y1="43.50" x2="496.25" y2="43.50" stroke="#444" stroke-width="1.4"/>
<polygon points="454.07,37.20 454.63,38.53 456.07,38.65 454.98,39.59 455.31,41.00 454.07,40.25 452.84,41.00 453.17,39.59 452.08,38.65 453.52,38.53" fill="#1a1a1a"/>
<polygon points="458.38,37.20 458.93,38.53 460.37,38.65 459.28,39.59 459.61,41.00 458.38,40.25 457.14,41.00 457.47,39.59 456.38,38.65 457.82,38.53" fill="#1a1a1a"/>
<polygon points="462.68,37.20 463.23,38.53 464.67,38.65 463.58,39.59 463.91,41.00 462.68,40.25 461.44,41.00 461.77,39.59 460.68,38.65 462.12,38.53" fill="#1a1a1a"/>
<line x1="417.50" y1="55.00" x2="471.25" y2="55.00" stroke="#444" stroke-width="1.4"/>
<polygon points="440.07,48.70 440.63,50.03 442.07,50.15 440.98,51.09 441.31,52.50 440.07,51.75 438.84,52.50 439.17,51.09 438.08,50.15 439.52,50.03" fill="#1a1a1a"/>
<polygon points="444.38,48.70 444.93,50.03 446.37,50.15 445.28,51.09 445.61,52.50 444.38,51.75 443.14,52.50 443.47,51.09 442.38,50.15 443.82,50.03" fill="#1a1a1a"/>
<polygon points="448.68,48.70 449.23,50.03 450.67,50.15 449.58,51.09 449.91,52.50 448.68,51.75 447.44,52.50 447.77,51.09 446.68,50.15 448.12,50.03" fill="#1a1a1a"/>
<line x1="417.50" y1="66.25" x2="448.75" y2="66.25" stroke="#444" stroke-width="1.4"/>
<polygon points="428.82,59.95 429.38,61.28 430.82,61.40 429.73,62.34 430.06,63.75 428.82,63.00 427.59,63.75 427.92,62.34 426.83,61.40 428.27,61.28" fill="#1a1a1a"/>
<polygon points="433.12,59.95 433.68,61.28 435.12,61.40 434.03,62.34 434.36,63.75 433.12,63.00 431.89,63.75 432.22,62.34 431.13,61.40 432.57,61.28" fill="#1a1a1a"/>
<polygon points="437.43,59.95 437.98,61.28 439.42,61.40 438.33,62.34 438.66,63.75 437.43,63.00 436.19,63.75 436.52,62.34 435.43,61.40 436.87,61.28" fill="#1a1a1a"/>
<text x="8.40" y="278.50" font-size="13.6" text-anchor="start" font-weight="bold" fill="#1a1a1a" >C</text>
<line x1="54.40" y1="302.50" x2="54.40" y2="436.90" stroke="#1a1a1a" stroke-width="1.4"/>
<line x1="49.90" y1="436.90" x2="54.40" y2="436.90" stroke="#1a1a1a" stroke-width="1.2"/>
<text transform="translate(47.10,440.60) scale(0.95,1)" font-size="10.5" text-anchor="end" fill="#2b2b2b" >0</text>
<line x1="49.90" y1="404.15" x2="54.40" y2="404.15" stroke="#1a1a1a" stroke-width="1.2"/>
<text transform="translate(47.10,407.85) scale(0.95,1)" font-size="10.5" text-anchor="end" fill="#2b2b2b" >1000</text>
<line x1="49.90" y1="371.40" x2="54.40" y2="371.40" stroke="#1a1a1a" stroke-width="1.2"/>
<text transform="translate(47.10,375.10) scale(0.95,1)" font-size="10.5" text-anchor="end" fill="#2b2b2b" >2000</text>
<line x1="49.90" y1="338.65" x2="54.40" y2="338.65" stroke="#1a1a1a" stroke-width="1.2"/>
<text transform="translate(47.10,342.35) scale(0.95,1)" font-size="10.5" text-anchor="end" fill="#2b2b2b" >3000</text>
<line x1="49.90" y1="305.90" x2="54.40" y2="305.90" stroke="#1a1a1a" stroke-width="1.2"/>
<text transform="translate(47.10,309.60) scale(0.95,1)" font-size="10.5" text-anchor="end" fill="#2b2b2b" >4000</text>
<text transform="translate(19.00,369.00) rotate(-90)" font-size="11.2" text-anchor="middle" textLength="68" lengthAdjust="spacingAndGlyphs" fill="#1a1a1a">Liver iron (μg/g)</text>
<rect x="63.00" y="434.50" width="14.00" height="2.40" fill="#c5c5c8"/>
<rect x="86.50" y="406.70" width="14.00" height="30.20" fill="#cb0029"/>
<rect x="110.00" y="400.40" width="14.00" height="36.50" fill="#e2037b"/>
<rect x="133.50" y="400.40" width="14.00" height="36.50" fill="#8e83c0"/>
<rect x="157.00" y="434.50" width="14.00" height="2.40" fill="#c5c5c8"/>
<rect x="180.50" y="410.40" width="14.00" height="26.50" fill="#cb0029"/>
<rect x="204.00" y="412.90" width="14.00" height="24.00" fill="#e2037b"/>
<rect x="227.50" y="376.70" width="14.00" height="60.20" fill="#8e83c0"/>
<line x1="54.40" y1="436.90" x2="250.70" y2="436.90" stroke="#1a1a1a" stroke-width="1.5"/>
<line x1="70.00" y1="436.90" x2="70.00" y2="440.40" stroke="#1a1a1a" stroke-width="1.0"/>
<line x1="93.50" y1="436.90" x2="93.50" y2="440.40" stroke="#1a1a1a" stroke-width="1.0"/>
<line x1="117.00" y1="436.90" x2="117.00" y2="440.40" stroke="#1a1a1a" stroke-width="1.0"/>
<line x1="140.50" y1="436.90" x2="140.50" y2="440.40" stroke="#1a1a1a" stroke-width="1.0"/>
<line x1="164.00" y1="436.90" x2="164.00" y2="440.40" stroke="#1a1a1a" stroke-width="1.0"/>
<line x1="187.50" y1="436.90" x2="187.50" y2="440.40" stroke="#1a1a1a" stroke-width="1.0"/>
<line x1="211.00" y1="436.90" x2="211.00" y2="440.40" stroke="#1a1a1a" stroke-width="1.0"/>
<line x1="234.50" y1="436.90" x2="234.50" y2="440.40" stroke="#1a1a1a" stroke-width="1.0"/>
<text transform="translate(51.00,453.30) scale(0.93,1)" font-size="10.5" text-anchor="end" font-style="italic" fill="#2b2b2b" >Bmp5</text>
<text transform="translate(51.00,467.80) scale(0.93,1)" font-size="10.5" text-anchor="end" font-style="italic" fill="#2b2b2b" >Bmp6</text>
<text transform="translate(51.00,482.10) scale(0.9,1)" font-size="10.5" text-anchor="end" font-style="italic" fill="#2b2b2b" >Tek-Cre</text>
<text transform="translate(70.00,453.30) scale(0.93,1)" font-size="10.3" text-anchor="middle" font-style="italic" fill="#2b2b2b" >wt</text>
<text transform="translate(70.00,467.80) scale(0.93,1)" font-size="10.3" text-anchor="middle" font-style="italic" fill="#2b2b2b" >fl</text>
<text x="70.00" y="482.10" font-size="10" text-anchor="middle" fill="#2b2b2b" >–</text>
<text transform="translate(93.50,453.30) scale(0.93,1)" font-size="10.3" text-anchor="middle" font-style="italic" fill="#2b2b2b" >wt</text>
<text transform="translate(93.50,467.80) scale(0.93,1)" font-size="10.3" text-anchor="middle" font-style="italic" fill="#2b2b2b" >fl</text>
<text x="93.50" y="482.10" font-size="10" text-anchor="middle" fill="#2b2b2b" >+</text>
<text transform="translate(117.00,453.30) scale(0.93,1)" font-size="10.3" text-anchor="middle" font-style="italic" fill="#2b2b2b" >het</text>
<text transform="translate(117.00,467.80) scale(0.93,1)" font-size="10.3" text-anchor="middle" font-style="italic" fill="#2b2b2b" >fl</text>
<text x="117.00" y="482.10" font-size="10" text-anchor="middle" fill="#2b2b2b" >+</text>
<text transform="translate(140.50,453.30) scale(0.93,1)" font-size="10.3" text-anchor="middle" font-style="italic" fill="#2b2b2b" >se</text>
<text transform="translate(140.50,467.80) scale(0.93,1)" font-size="10.3" text-anchor="middle" font-style="italic" fill="#2b2b2b" >fl</text>
<text x="140.50" y="482.10" font-size="10" text-anchor="middle" fill="#2b2b2b" >+</text>
<text transform="translate(164.00,453.30) scale(0.93,1)" font-size="10.3" text-anchor="middle" font-style="italic" fill="#2b2b2b" >wt</text>
<text transform="translate(164.00,467.80) scale(0.93,1)" font-size="10.3" text-anchor="middle" font-style="italic" fill="#2b2b2b" >fl</text>
<text x="164.00" y="482.10" font-size="10" text-anchor="middle" fill="#2b2b2b" >–</text>
<text transform="translate(187.50,453.30) scale(0.93,1)" font-size="10.3" text-anchor="middle" font-style="italic" fill="#2b2b2b" >wt</text>
<text transform="translate(187.50,467.80) scale(0.93,1)" font-size="10.3" text-anchor="middle" font-style="italic" fill="#2b2b2b" >fl</text>
<text x="187.50" y="482.10" font-size="10" text-anchor="middle" fill="#2b2b2b" >+</text>
<text transform="translate(211.00,453.30) scale(0.93,1)" font-size="10.3" text-anchor="middle" font-style="italic" fill="#2b2b2b" >het</text>
<text transform="translate(211.00,467.80) scale(0.93,1)" font-size="10.3" text-anchor="middle" font-style="italic" fill="#2b2b2b" >fl</text>
<text x="211.00" y="482.10" font-size="10" text-anchor="middle" fill="#2b2b2b" >+</text>
<text transform="translate(234.50,453.30) scale(0.93,1)" font-size="10.3" text-anchor="middle" font-style="italic" fill="#2b2b2b" >se</text>
<text transform="translate(234.50,467.80) scale(0.93,1)" font-size="10.3" text-anchor="middle" font-style="italic" fill="#2b2b2b" >fl</text>
<text x="234.50" y="482.10" font-size="10" text-anchor="middle" fill="#2b2b2b" >+</text>
<line x1="64.25" y1="488.17" x2="150.00" y2="488.17" stroke="#1a1a1a" stroke-width="1.3"/>
<line x1="158.75" y1="488.17" x2="248.00" y2="488.17" stroke="#1a1a1a" stroke-width="1.3"/>
<text transform="translate(107.12,500.77) scale(0.9,1)" font-size="10.8" text-anchor="middle" fill="#2b2b2b" >Male</text>
<text transform="translate(203.38,500.77) scale(0.9,1)" font-size="10.8" text-anchor="middle" fill="#2b2b2b" >Female</text>
<line x1="70.00" y1="433.00" x2="70.00" y2="435.50" stroke="#1a1a1a" stroke-width="1.3"/>
<line x1="66.25" y1="433.00" x2="73.75" y2="433.00" stroke="#1a1a1a" stroke-width="1.3"/>
<line x1="66.25" y1="435.50" x2="73.75" y2="435.50" stroke="#1a1a1a" stroke-width="1.3"/>
<line x1="93.50" y1="402.90" x2="93.50" y2="410.00" stroke="#1a1a1a" stroke-width="1.3"/>
<line x1="89.75" y1="402.90" x2="97.25" y2="402.90" stroke="#1a1a1a" stroke-width="1.3"/>
<line x1="89.75" y1="410.00" x2="97.25" y2="410.00" stroke="#1a1a1a" stroke-width="1.3"/>
<line x1="117.00" y1="395.20" x2="117.00" y2="405.50" stroke="#1a1a1a" stroke-width="1.3"/>
<line x1="113.25" y1="395.20" x2="120.75" y2="395.20" stroke="#1a1a1a" stroke-width="1.3"/>
<line x1="113.25" y1="405.50" x2="120.75" y2="405.50" stroke="#1a1a1a" stroke-width="1.3"/>
<line x1="140.50" y1="395.80" x2="140.50" y2="405.00" stroke="#1a1a1a" stroke-width="1.3"/>
<line x1="136.75" y1="395.80" x2="144.25" y2="395.80" stroke="#1a1a1a" stroke-width="1.3"/>
<line x1="136.75" y1="405.00" x2="144.25" y2="405.00" stroke="#1a1a1a" stroke-width="1.3"/>
<line x1="164.00" y1="433.00" x2="164.00" y2="435.50" stroke="#1a1a1a" stroke-width="1.3"/>
<line x1="160.25" y1="433.00" x2="167.75" y2="433.00" stroke="#1a1a1a" stroke-width="1.3"/>
<line x1="160.25" y1="435.50" x2="167.75" y2="435.50" stroke="#1a1a1a" stroke-width="1.3"/>
<line x1="187.50" y1="402.30" x2="187.50" y2="418.00" stroke="#1a1a1a" stroke-width="1.3"/>
<line x1="183.75" y1="402.30" x2="191.25" y2="402.30" stroke="#1a1a1a" stroke-width="1.3"/>
<line x1="183.75" y1="418.00" x2="191.25" y2="418.00" stroke="#1a1a1a" stroke-width="1.3"/>
<line x1="211.00" y1="405.80" x2="211.00" y2="420.00" stroke="#1a1a1a" stroke-width="1.3"/>
<line x1="207.25" y1="405.80" x2="214.75" y2="405.80" stroke="#1a1a1a" stroke-width="1.3"/>
<line x1="207.25" y1="420.00" x2="214.75" y2="420.00" stroke="#1a1a1a" stroke-width="1.3"/>
<line x1="234.50" y1="361.50" x2="234.50" y2="388.80" stroke="#1a1a1a" stroke-width="1.3"/>
<line x1="230.75" y1="361.50" x2="238.25" y2="361.50" stroke="#1a1a1a" stroke-width="1.3"/>
<line x1="230.75" y1="388.80" x2="238.25" y2="388.80" stroke="#1a1a1a" stroke-width="1.3"/>
<circle cx="63.00" cy="434.60" r="1.95" fill="none" stroke="#1a1a1a" stroke-width="1.2"/>
<circle cx="67.00" cy="434.60" r="1.95" fill="none" stroke="#1a1a1a" stroke-width="1.2"/>
<circle cx="71.00" cy="434.60" r="1.95" fill="none" stroke="#1a1a1a" stroke-width="1.2"/>
<circle cx="75.00" cy="434.60" r="1.95" fill="none" stroke="#1a1a1a" stroke-width="1.2"/>
<circle cx="69.00" cy="433.50" r="1.95" fill="none" stroke="#1a1a1a" stroke-width="1.2"/>
<circle cx="89.60" cy="400.40" r="1.95" fill="none" stroke="#1a1a1a" stroke-width="1.2"/>
<circle cx="97.00" cy="398.00" r="1.95" fill="none" stroke="#1a1a1a" stroke-width="1.2"/>
<circle cx="97.00" cy="403.50" r="1.95" fill="none" stroke="#1a1a1a" stroke-width="1.2"/>
<circle cx="89.60" cy="406.70" r="1.95" fill="none" stroke="#1a1a1a" stroke-width="1.2"/>
<circle cx="93.50" cy="406.00" r="1.95" fill="none" stroke="#1a1a1a" stroke-width="1.2"/>
<circle cx="93.50" cy="417.00" r="1.95" fill="none" stroke="#1a1a1a" stroke-width="1.2"/>
<circle cx="113.00" cy="376.30" r="1.95" fill="none" stroke="#1a1a1a" stroke-width="1.2"/>
<circle cx="120.50" cy="377.50" r="1.95" fill="none" stroke="#1a1a1a" stroke-width="1.2"/>
<circle cx="116.70" cy="382.30" r="1.95" fill="none" stroke="#1a1a1a" stroke-width="1.2"/>
<circle cx="117.00" cy="393.30" r="1.95" fill="none" stroke="#1a1a1a" stroke-width="1.2"/>
<circle cx="112.50" cy="399.00" r="1.95" fill="none" stroke="#1a1a1a" stroke-width="1.2"/>
<circle cx="121.00" cy="401.00" r="1.95" fill="none" stroke="#1a1a1a" stroke-width="1.2"/>
<circle cx="117.00" cy="405.00" r="1.95" fill="none" stroke="#1a1a1a" stroke-width="1.2"/>
<circle cx="112.50" cy="413.00" r="1.95" fill="none" stroke="#1a1a1a" stroke-width="1.2"/>
<circle cx="120.50" cy="412.50" r="1.95" fill="none" stroke="#1a1a1a" stroke-width="1.2"/>
<circle cx="112.50" cy="418.30" r="1.95" fill="none" stroke="#1a1a1a" stroke-width="1.2"/>
<circle cx="120.50" cy="417.30" r="1.95" fill="none" stroke="#1a1a1a" stroke-width="1.2"/>
<circle cx="136.70" cy="389.00" r="1.95" fill="none" stroke="#1a1a1a" stroke-width="1.2"/>
<circle cx="144.00" cy="388.50" r="1.95" fill="none" stroke="#1a1a1a" stroke-width="1.2"/>
<circle cx="136.70" cy="400.40" r="1.95" fill="none" stroke="#1a1a1a" stroke-width="1.2"/>
<circle cx="144.50" cy="400.00" r="1.95" fill="none" stroke="#1a1a1a" stroke-width="1.2"/>
<circle cx="140.70" cy="407.00" r="1.95" fill="none" stroke="#1a1a1a" stroke-width="1.2"/>
<circle cx="140.70" cy="417.00" r="1.95" fill="none" stroke="#1a1a1a" stroke-width="1.2"/>
<circle cx="158.00" cy="435.00" r="2.0" fill="#1a1a1a"/>
<circle cx="162.00" cy="434.50" r="2.0" fill="#1a1a1a"/>
<circle cx="166.00" cy="435.00" r="2.0" fill="#1a1a1a"/>
<circle cx="170.00" cy="434.50" r="2.0" fill="#1a1a1a"/>
<circle cx="164.00" cy="433.00" r="2.0" fill="#1a1a1a"/>
<circle cx="187.70" cy="377.70" r="2.0" fill="#1a1a1a"/>
<circle cx="187.70" cy="402.50" r="2.0" fill="#1a1a1a"/>
<circle cx="183.50" cy="410.00" r="2.0" fill="#1a1a1a"/>
<circle cx="191.50" cy="410.00" r="2.0" fill="#1a1a1a"/>
<circle cx="183.00" cy="415.00" r="2.0" fill="#1a1a1a"/>
<circle cx="192.00" cy="415.00" r="2.0" fill="#1a1a1a"/>
<circle cx="187.70" cy="430.00" r="2.0" fill="#1a1a1a"/>
<circle cx="207.50" cy="406.00" r="2.0" fill="#1a1a1a"/>
<circle cx="214.50" cy="407.00" r="2.0" fill="#1a1a1a"/>
<circle cx="207.50" cy="412.00" r="2.0" fill="#1a1a1a"/>
<circle cx="215.00" cy="413.00" r="2.0" fill="#1a1a1a"/>
<circle cx="211.00" cy="420.00" r="2.0" fill="#1a1a1a"/>
<circle cx="214.50" cy="422.00" r="2.0" fill="#1a1a1a"/>
<circle cx="207.50" cy="428.50" r="2.0" fill="#1a1a1a"/>
<circle cx="214.50" cy="428.00" r="2.0" fill="#1a1a1a"/>
<circle cx="234.75" cy="321.25" r="2.0" fill="#1a1a1a"/>
<circle cx="234.75" cy="351.25" r="2.0" fill="#1a1a1a"/>
<circle cx="232.00" cy="384.60" r="2.0" fill="#1a1a1a"/>
<circle cx="238.00" cy="383.00" r="2.0" fill="#1a1a1a"/>
<circle cx="232.00" cy="406.00" r="2.0" fill="#1a1a1a"/>
<circle cx="238.00" cy="403.80" r="2.0" fill="#1a1a1a"/>
<line x1="64.50" y1="304.25" x2="140.50" y2="304.25" stroke="#444" stroke-width="1.4"/>
<polygon points="98.20,297.95 98.76,299.28 100.20,299.40 99.10,300.34 99.43,301.75 98.20,301.00 96.97,301.75 97.30,300.34 96.20,299.40 97.64,299.28" fill="#1a1a1a"/>
<polygon points="102.50,297.95 103.06,299.28 104.50,299.40 103.40,300.34 103.73,301.75 102.50,301.00 101.27,301.75 101.60,300.34 100.50,299.40 101.94,299.28" fill="#1a1a1a"/>
<polygon points="106.80,297.95 107.36,299.28 108.80,299.40 107.70,300.34 108.03,301.75 106.80,301.00 105.57,301.75 105.90,300.34 104.80,299.40 106.24,299.28" fill="#1a1a1a"/>
<line x1="62.00" y1="316.25" x2="116.25" y2="316.25" stroke="#444" stroke-width="1.4"/>
<polygon points="84.83,309.95 85.38,311.28 86.82,311.40 85.73,312.34 86.06,313.75 84.83,313.00 83.59,313.75 83.92,312.34 82.83,311.40 84.27,311.28" fill="#1a1a1a"/>
<polygon points="89.12,309.95 89.68,311.28 91.12,311.40 90.03,312.34 90.36,313.75 89.12,313.00 87.89,313.75 88.22,312.34 87.13,311.40 88.57,311.28" fill="#1a1a1a"/>
<polygon points="93.42,309.95 93.98,311.28 95.42,311.40 94.33,312.34 94.66,313.75 93.42,313.00 92.19,313.75 92.52,312.34 91.43,311.40 92.87,311.28" fill="#1a1a1a"/>
<line x1="62.00" y1="331.25" x2="92.50" y2="331.25" stroke="#444" stroke-width="1.4"/>
<polygon points="72.95,324.95 73.51,326.28 74.95,326.40 73.85,327.34 74.18,328.75 72.95,328.00 71.72,328.75 72.05,327.34 70.95,326.40 72.39,326.28" fill="#1a1a1a"/>
<polygon points="77.25,324.95 77.81,326.28 79.25,326.40 78.15,327.34 78.48,328.75 77.25,328.00 76.02,328.75 76.35,327.34 75.25,326.40 76.69,326.28" fill="#1a1a1a"/>
<polygon points="81.55,324.95 82.11,326.28 83.55,326.40 82.45,327.34 82.78,328.75 81.55,328.00 80.32,328.75 80.65,327.34 79.55,326.40 80.99,326.28" fill="#1a1a1a"/>
<line x1="161.25" y1="304.25" x2="238.00" y2="304.25" stroke="#444" stroke-width="1.4"/>
<polygon points="195.32,297.95 195.88,299.28 197.32,299.40 196.23,300.34 196.56,301.75 195.32,301.00 194.09,301.75 194.42,300.34 193.33,299.40 194.77,299.28" fill="#1a1a1a"/>
<polygon points="199.62,297.95 200.18,299.28 201.62,299.40 200.53,300.34 200.86,301.75 199.62,301.00 198.39,301.75 198.72,300.34 197.63,299.40 199.07,299.28" fill="#1a1a1a"/>
<polygon points="203.93,297.95 204.48,299.28 205.92,299.40 204.83,300.34 205.16,301.75 203.93,301.00 202.69,301.75 203.02,300.34 201.93,299.40 203.37,299.28" fill="#1a1a1a"/>
<line x1="161.25" y1="317.00" x2="210.00" y2="317.00" stroke="#444" stroke-width="1.4"/>
<polygon points="181.32,310.70 181.88,312.03 183.32,312.15 182.23,313.09 182.56,314.50 181.32,313.75 180.09,314.50 180.42,313.09 179.33,312.15 180.77,312.03" fill="#1a1a1a"/>
<polygon points="185.62,310.70 186.18,312.03 187.62,312.15 186.53,313.09 186.86,314.50 185.62,313.75 184.39,314.50 184.72,313.09 183.63,312.15 185.07,312.03" fill="#1a1a1a"/>
<polygon points="189.93,310.70 190.48,312.03 191.92,312.15 190.83,313.09 191.16,314.50 189.93,313.75 188.69,314.50 189.02,313.09 187.93,312.15 189.37,312.03" fill="#1a1a1a"/>
<line x1="212.00" y1="317.00" x2="242.50" y2="317.00" stroke="#444" stroke-width="1.4"/>
<polygon points="225.10,310.70 225.66,312.03 227.10,312.15 226.00,313.09 226.33,314.50 225.10,313.75 223.87,314.50 224.20,313.09 223.10,312.15 224.54,312.03" fill="#1a1a1a"/>
<polygon points="229.40,310.70 229.96,312.03 231.40,312.15 230.30,313.09 230.63,314.50 229.40,313.75 228.17,314.50 228.50,313.09 227.40,312.15 228.84,312.03" fill="#1a1a1a"/>
<line x1="162.50" y1="331.25" x2="192.50" y2="331.25" stroke="#444" stroke-width="1.4"/>
<polygon points="173.20,324.95 173.76,326.28 175.20,326.40 174.10,327.34 174.43,328.75 173.20,328.00 171.97,328.75 172.30,327.34 171.20,326.40 172.64,326.28" fill="#1a1a1a"/>
<polygon points="177.50,324.95 178.06,326.28 179.50,326.40 178.40,327.34 178.73,328.75 177.50,328.00 176.27,328.75 176.60,327.34 175.50,326.40 176.94,326.28" fill="#1a1a1a"/>
<polygon points="181.80,324.95 182.36,326.28 183.80,326.40 182.70,327.34 183.03,328.75 181.80,328.00 180.57,328.75 180.90,327.34 179.80,326.40 181.24,326.28" fill="#1a1a1a"/>
<text x="269.80" y="279.00" font-size="13.6" text-anchor="start" font-weight="bold" fill="#1a1a1a" >D</text>
<line x1="315.30" y1="303.00" x2="315.30" y2="436.60" stroke="#1a1a1a" stroke-width="1.4"/>
<line x1="310.80" y1="436.60" x2="315.30" y2="436.60" stroke="#1a1a1a" stroke-width="1.2"/>
<text transform="translate(308.00,440.30) scale(0.95,1)" font-size="10.5" text-anchor="end" fill="#2b2b2b" >0</text>
<line x1="310.80" y1="410.52" x2="315.30" y2="410.52" stroke="#1a1a1a" stroke-width="1.2"/>
<text transform="translate(308.00,414.22) scale(0.95,1)" font-size="10.5" text-anchor="end" fill="#2b2b2b" >200</text>
<line x1="310.80" y1="384.44" x2="315.30" y2="384.44" stroke="#1a1a1a" stroke-width="1.2"/>
<text transform="translate(308.00,388.14) scale(0.95,1)" font-size="10.5" text-anchor="end" fill="#2b2b2b" >400</text>
<line x1="310.80" y1="358.36" x2="315.30" y2="358.36" stroke="#1a1a1a" stroke-width="1.2"/>
<text transform="translate(308.00,362.06) scale(0.95,1)" font-size="10.5" text-anchor="end" fill="#2b2b2b" >600</text>
<line x1="310.80" y1="332.28" x2="315.30" y2="332.28" stroke="#1a1a1a" stroke-width="1.2"/>
<text transform="translate(308.00,335.98) scale(0.95,1)" font-size="10.5" text-anchor="end" fill="#2b2b2b" >800</text>
<line x1="310.80" y1="306.20" x2="315.30" y2="306.20" stroke="#1a1a1a" stroke-width="1.2"/>
<text transform="translate(308.00,309.90) scale(0.95,1)" font-size="10.5" text-anchor="end" fill="#2b2b2b" >1000</text>
<text transform="translate(280.80,370.00) rotate(-90)" font-size="11.2" text-anchor="middle" textLength="83" lengthAdjust="spacingAndGlyphs" fill="#1a1a1a">Pancreas iron (μg/g)</text>
<rect x="324.00" y="434.50" width="14.00" height="2.10" fill="#c5c5c8"/>
<rect x="347.50" y="412.50" width="14.00" height="24.10" fill="#cb0029"/>
<rect x="371.00" y="394.20" width="14.00" height="42.40" fill="#e2037b"/>
<rect x="394.50" y="367.30" width="14.00" height="69.30" fill="#8e83c0"/>
<rect x="418.00" y="434.50" width="14.00" height="2.10" fill="#c5c5c8"/>
<rect x="441.50" y="434.50" width="14.00" height="2.10" fill="#cb0029"/>
<rect x="465.00" y="428.50" width="14.00" height="8.10" fill="#e2037b"/>
<rect x="488.50" y="373.50" width="14.00" height="63.10" fill="#8e83c0"/>
<line x1="315.30" y1="436.60" x2="511.50" y2="436.60" stroke="#1a1a1a" stroke-width="1.5"/>
<line x1="331.00" y1="436.60" x2="331.00" y2="440.10" stroke="#1a1a1a" stroke-width="1.0"/>
<line x1="354.50" y1="436.60" x2="354.50" y2="440.10" stroke="#1a1a1a" stroke-width="1.0"/>
<line x1="378.00" y1="436.60" x2="378.00" y2="440.10" stroke="#1a1a1a" stroke-width="1.0"/>
<line x1="401.50" y1="436.60" x2="401.50" y2="440.10" stroke="#1a1a1a" stroke-width="1.0"/>
<line x1="425.00" y1="436.60" x2="425.00" y2="440.10" stroke="#1a1a1a" stroke-width="1.0"/>
<line x1="448.50" y1="436.60" x2="448.50" y2="440.10" stroke="#1a1a1a" stroke-width="1.0"/>
<line x1="472.00" y1="436.60" x2="472.00" y2="440.10" stroke="#1a1a1a" stroke-width="1.0"/>
<line x1="495.50" y1="436.60" x2="495.50" y2="440.10" stroke="#1a1a1a" stroke-width="1.0"/>
<text transform="translate(312.00,453.30) scale(0.93,1)" font-size="10.5" text-anchor="end" font-style="italic" fill="#2b2b2b" >Bmp5</text>
<text transform="translate(312.00,467.80) scale(0.93,1)" font-size="10.5" text-anchor="end" font-style="italic" fill="#2b2b2b" >Bmp6</text>
<text transform="translate(312.00,482.10) scale(0.9,1)" font-size="10.5" text-anchor="end" font-style="italic" fill="#2b2b2b" >Tek-Cre</text>
<text transform="translate(331.00,453.30) scale(0.93,1)" font-size="10.3" text-anchor="middle" font-style="italic" fill="#2b2b2b" >wt</text>
<text transform="translate(331.00,467.80) scale(0.93,1)" font-size="10.3" text-anchor="middle" font-style="italic" fill="#2b2b2b" >fl</text>
<text x="331.00" y="482.10" font-size="10" text-anchor="middle" fill="#2b2b2b" >–</text>
<text transform="translate(354.50,453.30) scale(0.93,1)" font-size="10.3" text-anchor="middle" font-style="italic" fill="#2b2b2b" >wt</text>
<text transform="translate(354.50,467.80) scale(0.93,1)" font-size="10.3" text-anchor="middle" font-style="italic" fill="#2b2b2b" >fl</text>
<text x="354.50" y="482.10" font-size="10" text-anchor="middle" fill="#2b2b2b" >+</text>
<text transform="translate(378.00,453.30) scale(0.93,1)" font-size="10.3" text-anchor="middle" font-style="italic" fill="#2b2b2b" >het</text>
<text transform="translate(378.00,467.80) scale(0.93,1)" font-size="10.3" text-anchor="middle" font-style="italic" fill="#2b2b2b" >fl</text>
<text x="378.00" y="482.10" font-size="10" text-anchor="middle" fill="#2b2b2b" >+</text>
<text transform="translate(401.50,453.30) scale(0.93,1)" font-size="10.3" text-anchor="middle" font-style="italic" fill="#2b2b2b" >se</text>
<text transform="translate(401.50,467.80) scale(0.93,1)" font-size="10.3" text-anchor="middle" font-style="italic" fill="#2b2b2b" >fl</text>
<text x="401.50" y="482.10" font-size="10" text-anchor="middle" fill="#2b2b2b" >+</text>
<text transform="translate(425.00,453.30) scale(0.93,1)" font-size="10.3" text-anchor="middle" font-style="italic" fill="#2b2b2b" >wt</text>
<text transform="translate(425.00,467.80) scale(0.93,1)" font-size="10.3" text-anchor="middle" font-style="italic" fill="#2b2b2b" >fl</text>
<text x="425.00" y="482.10" font-size="10" text-anchor="middle" fill="#2b2b2b" >–</text>
<text transform="translate(448.50,453.30) scale(0.93,1)" font-size="10.3" text-anchor="middle" font-style="italic" fill="#2b2b2b" >wt</text>
<text transform="translate(448.50,467.80) scale(0.93,1)" font-size="10.3" text-anchor="middle" font-style="italic" fill="#2b2b2b" >fl</text>
<text x="448.50" y="482.10" font-size="10" text-anchor="middle" fill="#2b2b2b" >+</text>
<text transform="translate(472.00,453.30) scale(0.93,1)" font-size="10.3" text-anchor="middle" font-style="italic" fill="#2b2b2b" >het</text>
<text transform="translate(472.00,467.80) scale(0.93,1)" font-size="10.3" text-anchor="middle" font-style="italic" fill="#2b2b2b" >fl</text>
<text x="472.00" y="482.10" font-size="10" text-anchor="middle" fill="#2b2b2b" >+</text>
<text transform="translate(495.50,453.30) scale(0.93,1)" font-size="10.3" text-anchor="middle" font-style="italic" fill="#2b2b2b" >se</text>
<text transform="translate(495.50,467.80) scale(0.93,1)" font-size="10.3" text-anchor="middle" font-style="italic" fill="#2b2b2b" >fl</text>
<text x="495.50" y="482.10" font-size="10" text-anchor="middle" fill="#2b2b2b" >+</text>
<line x1="325.00" y1="488.05" x2="411.00" y2="488.05" stroke="#1a1a1a" stroke-width="1.3"/>
<line x1="419.00" y1="488.05" x2="509.20" y2="488.05" stroke="#1a1a1a" stroke-width="1.3"/>
<text transform="translate(368.00,500.65) scale(0.9,1)" font-size="10.8" text-anchor="middle" fill="#2b2b2b" >Male</text>
<text transform="translate(464.10,500.65) scale(0.9,1)" font-size="10.8" text-anchor="middle" fill="#2b2b2b" >Female</text>
<line x1="354.50" y1="405.20" x2="354.50" y2="419.00" stroke="#1a1a1a" stroke-width="1.3"/>
<line x1="350.75" y1="405.20" x2="358.25" y2="405.20" stroke="#1a1a1a" stroke-width="1.3"/>
<line x1="350.75" y1="419.00" x2="358.25" y2="419.00" stroke="#1a1a1a" stroke-width="1.3"/>
<line x1="378.00" y1="387.50" x2="378.00" y2="401.00" stroke="#1a1a1a" stroke-width="1.3"/>
<line x1="374.25" y1="387.50" x2="381.75" y2="387.50" stroke="#1a1a1a" stroke-width="1.3"/>
<line x1="374.25" y1="401.00" x2="381.75" y2="401.00" stroke="#1a1a1a" stroke-width="1.3"/>
<line x1="401.50" y1="354.20" x2="401.50" y2="377.00" stroke="#1a1a1a" stroke-width="1.3"/>
<line x1="397.75" y1="354.20" x2="405.25" y2="354.20" stroke="#1a1a1a" stroke-width="1.3"/>
<line x1="397.75" y1="377.00" x2="405.25" y2="377.00" stroke="#1a1a1a" stroke-width="1.3"/>
<line x1="472.00" y1="424.60" x2="472.00" y2="432.00" stroke="#1a1a1a" stroke-width="1.3"/>
<line x1="468.25" y1="424.60" x2="475.75" y2="424.60" stroke="#1a1a1a" stroke-width="1.3"/>
<line x1="468.25" y1="432.00" x2="475.75" y2="432.00" stroke="#1a1a1a" stroke-width="1.3"/>
<line x1="495.50" y1="365.40" x2="495.50" y2="380.80" stroke="#1a1a1a" stroke-width="1.3"/>
<line x1="491.75" y1="365.40" x2="499.25" y2="365.40" stroke="#1a1a1a" stroke-width="1.3"/>
<line x1="491.75" y1="380.80" x2="499.25" y2="380.80" stroke="#1a1a1a" stroke-width="1.3"/>
<circle cx="324.00" cy="434.20" r="1.95" fill="none" stroke="#1a1a1a" stroke-width="1.2"/>
<circle cx="328.00" cy="434.20" r="1.95" fill="none" stroke="#1a1a1a" stroke-width="1.2"/>
<circle cx="332.00" cy="434.20" r="1.95" fill="none" stroke="#1a1a1a" stroke-width="1.2"/>
<circle cx="336.00" cy="434.20" r="1.95" fill="none" stroke="#1a1a1a" stroke-width="1.2"/>
<circle cx="330.00" cy="433.00" r="1.95" fill="none" stroke="#1a1a1a" stroke-width="1.2"/>
<circle cx="354.50" cy="390.40" r="1.95" fill="none" stroke="#1a1a1a" stroke-width="1.2"/>
<circle cx="354.50" cy="405.20" r="1.95" fill="none" stroke="#1a1a1a" stroke-width="1.2"/>
<circle cx="350.00" cy="410.00" r="1.95" fill="none" stroke="#1a1a1a" stroke-width="1.2"/>
<circle cx="359.00" cy="410.00" r="1.95" fill="none" stroke="#1a1a1a" stroke-width="1.2"/>
<circle cx="354.50" cy="415.00" r="1.95" fill="none" stroke="#1a1a1a" stroke-width="1.2"/>
<circle cx="350.00" cy="427.00" r="1.95" fill="none" stroke="#1a1a1a" stroke-width="1.2"/>
<circle cx="359.00" cy="427.00" r="1.95" fill="none" stroke="#1a1a1a" stroke-width="1.2"/>
<circle cx="378.00" cy="356.20" r="1.95" fill="none" stroke="#1a1a1a" stroke-width="1.2"/>
<circle cx="378.00" cy="367.00" r="1.95" fill="none" stroke="#1a1a1a" stroke-width="1.2"/>
<circle cx="376.00" cy="391.70" r="1.95" fill="none" stroke="#1a1a1a" stroke-width="1.2"/>
<circle cx="372.00" cy="395.00" r="1.95" fill="none" stroke="#1a1a1a" stroke-width="1.2"/>
<circle cx="383.00" cy="395.00" r="1.95" fill="none" stroke="#1a1a1a" stroke-width="1.2"/>
<circle cx="372.00" cy="400.00" r="1.95" fill="none" stroke="#1a1a1a" stroke-width="1.2"/>
<circle cx="376.00" cy="402.00" r="1.95" fill="none" stroke="#1a1a1a" stroke-width="1.2"/>
<circle cx="381.00" cy="402.00" r="1.95" fill="none" stroke="#1a1a1a" stroke-width="1.2"/>
<circle cx="385.00" cy="401.00" r="1.95" fill="none" stroke="#1a1a1a" stroke-width="1.2"/>
<circle cx="378.00" cy="408.70" r="1.95" fill="none" stroke="#1a1a1a" stroke-width="1.2"/>
<circle cx="401.70" cy="318.70" r="1.95" fill="none" stroke="#1a1a1a" stroke-width="1.2"/>
<circle cx="401.70" cy="355.80" r="1.95" fill="none" stroke="#1a1a1a" stroke-width="1.2"/>
<circle cx="401.70" cy="366.30" r="1.95" fill="none" stroke="#1a1a1a" stroke-width="1.2"/>
<circle cx="401.70" cy="374.00" r="1.95" fill="none" stroke="#1a1a1a" stroke-width="1.2"/>
<circle cx="397.50" cy="391.70" r="1.95" fill="none" stroke="#1a1a1a" stroke-width="1.2"/>
<circle cx="405.00" cy="391.70" r="1.95" fill="none" stroke="#1a1a1a" stroke-width="1.2"/>
<circle cx="418.50" cy="435.00" r="2.0" fill="#1a1a1a"/>
<circle cx="421.50" cy="432.50" r="2.0" fill="#1a1a1a"/>
<circle cx="425.00" cy="434.00" r="2.0" fill="#1a1a1a"/>
<circle cx="429.00" cy="435.00" r="2.0" fill="#1a1a1a"/>
<circle cx="432.00" cy="435.50" r="2.0" fill="#1a1a1a"/>
<circle cx="442.00" cy="435.00" r="2.0" fill="#1a1a1a"/>
<circle cx="446.00" cy="434.00" r="2.0" fill="#1a1a1a"/>
<circle cx="450.00" cy="434.00" r="2.0" fill="#1a1a1a"/>
<circle cx="454.00" cy="435.00" r="2.0" fill="#1a1a1a"/>
<circle cx="448.00" cy="436.00" r="2.0" fill="#1a1a1a"/>
<circle cx="472.30" cy="402.50" r="2.0" fill="#1a1a1a"/>
<circle cx="466.00" cy="430.00" r="2.0" fill="#1a1a1a"/>
<circle cx="470.00" cy="428.00" r="2.0" fill="#1a1a1a"/>
<circle cx="474.00" cy="428.00" r="2.0" fill="#1a1a1a"/>
<circle cx="478.00" cy="430.00" r="2.0" fill="#1a1a1a"/>
<circle cx="468.00" cy="433.00" r="2.0" fill="#1a1a1a"/>
<circle cx="472.00" cy="434.00" r="2.0" fill="#1a1a1a"/>
<circle cx="476.00" cy="433.00" r="2.0" fill="#1a1a1a"/>
<circle cx="496.00" cy="343.70" r="2.0" fill="#1a1a1a"/>
<circle cx="496.00" cy="361.20" r="2.0" fill="#1a1a1a"/>
<circle cx="496.00" cy="375.60" r="2.0" fill="#1a1a1a"/>
<circle cx="492.00" cy="381.70" r="2.0" fill="#1a1a1a"/>
<circle cx="500.00" cy="381.70" r="2.0" fill="#1a1a1a"/>
<circle cx="496.00" cy="390.40" r="2.0" fill="#1a1a1a"/>
<line x1="324.80" y1="289.70" x2="400.80" y2="289.70" stroke="#444" stroke-width="1.4"/>
<polygon points="358.50,283.40 359.06,284.73 360.50,284.85 359.40,285.79 359.73,287.20 358.50,286.45 357.27,287.20 357.60,285.79 356.50,284.85 357.94,284.73" fill="#1a1a1a"/>
<polygon points="362.80,283.40 363.36,284.73 364.80,284.85 363.70,285.79 364.03,287.20 362.80,286.45 361.57,287.20 361.90,285.79 360.80,284.85 362.24,284.73" fill="#1a1a1a"/>
<polygon points="367.10,283.40 367.66,284.73 369.10,284.85 368.00,285.79 368.33,287.20 367.10,286.45 365.87,287.20 366.20,285.79 365.10,284.85 366.54,284.73" fill="#1a1a1a"/>
<line x1="347.30" y1="300.90" x2="400.80" y2="300.90" stroke="#444" stroke-width="1.4"/>
<polygon points="369.75,294.60 370.31,295.93 371.75,296.05 370.65,296.99 370.98,298.40 369.75,297.65 368.52,298.40 368.85,296.99 367.75,296.05 369.19,295.93" fill="#1a1a1a"/>
<polygon points="374.05,294.60 374.61,295.93 376.05,296.05 374.95,296.99 375.28,298.40 374.05,297.65 372.82,298.40 373.15,296.99 372.05,296.05 373.49,295.93" fill="#1a1a1a"/>
<polygon points="378.35,294.60 378.91,295.93 380.35,296.05 379.25,296.99 379.58,298.40 378.35,297.65 377.12,298.40 377.45,296.99 376.35,296.05 377.79,295.93" fill="#1a1a1a"/>
<line x1="324.80" y1="311.80" x2="366.70" y2="311.80" stroke="#444" stroke-width="1.4"/>
<polygon points="341.45,305.50 342.01,306.83 343.45,306.95 342.35,307.89 342.68,309.30 341.45,308.55 340.22,309.30 340.55,307.89 339.45,306.95 340.89,306.83" fill="#1a1a1a"/>
<polygon points="345.75,305.50 346.31,306.83 347.75,306.95 346.65,307.89 346.98,309.30 345.75,308.55 344.52,309.30 344.85,307.89 343.75,306.95 345.19,306.83" fill="#1a1a1a"/>
<polygon points="350.05,305.50 350.61,306.83 352.05,306.95 350.95,307.89 351.28,309.30 350.05,308.55 348.82,309.30 349.15,307.89 348.05,306.95 349.49,306.83" fill="#1a1a1a"/>
<line x1="373.30" y1="311.80" x2="403.70" y2="311.80" stroke="#444" stroke-width="1.4"/>
<polygon points="388.50,305.50 389.06,306.83 390.50,306.95 389.40,307.89 389.73,309.30 388.50,308.55 387.27,309.30 387.60,307.89 386.50,306.95 387.94,306.83" fill="#1a1a1a"/>
<line x1="419.20" y1="289.70" x2="495.60" y2="289.70" stroke="#444" stroke-width="1.4"/>
<polygon points="453.10,283.40 453.66,284.73 455.10,284.85 454.00,285.79 454.33,287.20 453.10,286.45 451.87,287.20 452.20,285.79 451.10,284.85 452.54,284.73" fill="#1a1a1a"/>
<polygon points="457.40,283.40 457.96,284.73 459.40,284.85 458.30,285.79 458.63,287.20 457.40,286.45 456.17,287.20 456.50,285.79 455.40,284.85 456.84,284.73" fill="#1a1a1a"/>
<polygon points="461.70,283.40 462.26,284.73 463.70,284.85 462.60,285.79 462.93,287.20 461.70,286.45 460.47,287.20 460.80,285.79 459.70,284.85 461.14,284.73" fill="#1a1a1a"/>
<line x1="439.80" y1="300.70" x2="493.70" y2="300.70" stroke="#444" stroke-width="1.4"/>
<polygon points="462.45,294.40 463.01,295.73 464.45,295.85 463.35,296.79 463.68,298.20 462.45,297.45 461.22,298.20 461.55,296.79 460.45,295.85 461.89,295.73" fill="#1a1a1a"/>
<polygon points="466.75,294.40 467.31,295.73 468.75,295.85 467.65,296.79 467.98,298.20 466.75,297.45 465.52,298.20 465.85,296.79 464.75,295.85 466.19,295.73" fill="#1a1a1a"/>
<polygon points="471.05,294.40 471.61,295.73 473.05,295.85 471.95,296.79 472.28,298.20 471.05,297.45 469.82,298.20 470.15,296.79 469.05,295.85 470.49,295.73" fill="#1a1a1a"/>
<line x1="422.50" y1="311.80" x2="463.80" y2="311.80" stroke="#444" stroke-width="1.4"/>
<polygon points="438.85,305.50 439.41,306.83 440.85,306.95 439.75,307.89 440.08,309.30 438.85,308.55 437.62,309.30 437.95,307.89 436.85,306.95 438.29,306.83" fill="#1a1a1a"/>
<polygon points="443.15,305.50 443.71,306.83 445.15,306.95 444.05,307.89 444.38,309.30 443.15,308.55 441.92,309.30 442.25,307.89 441.15,306.95 442.59,306.83" fill="#1a1a1a"/>
<polygon points="447.45,305.50 448.01,306.83 449.45,306.95 448.35,307.89 448.68,309.30 447.45,308.55 446.22,309.30 446.55,307.89 445.45,306.95 446.89,306.83" fill="#1a1a1a"/>
<line x1="470.60" y1="311.80" x2="496.50" y2="311.80" stroke="#444" stroke-width="1.4"/>
<polygon points="479.25,305.50 479.81,306.83 481.25,306.95 480.15,307.89 480.48,309.30 479.25,308.55 478.02,309.30 478.35,307.89 477.25,306.95 478.69,306.83" fill="#1a1a1a"/>
<polygon points="483.55,305.50 484.11,306.83 485.55,306.95 484.45,307.89 484.78,309.30 483.55,308.55 482.32,309.30 482.65,307.89 481.55,306.95 482.99,306.83" fill="#1a1a1a"/>
<polygon points="487.85,305.50 488.41,306.83 489.85,306.95 488.75,307.89 489.08,309.30 487.85,308.55 486.62,309.30 486.95,307.89 485.85,306.95 487.29,306.83" fill="#1a1a1a"/>
<line x1="448.00" y1="324.30" x2="471.20" y2="324.30" stroke="#444" stroke-width="1.4"/>
<polygon points="457.45,318.00 458.01,319.33 459.45,319.45 458.35,320.39 458.68,321.80 457.45,321.05 456.22,321.80 456.55,320.39 455.45,319.45 456.89,319.33" fill="#1a1a1a"/>
<polygon points="461.75,318.00 462.31,319.33 463.75,319.45 462.65,320.39 462.98,321.80 461.75,321.05 460.52,321.80 460.85,320.39 459.75,319.45 461.19,319.33" fill="#1a1a1a"/>
<text x="8.60" y="533.30" font-size="13.6" text-anchor="start" font-weight="bold" fill="#1a1a1a" >E</text>
<line x1="54.40" y1="555.80" x2="54.40" y2="689.60" stroke="#1a1a1a" stroke-width="1.4"/>
<line x1="49.90" y1="689.60" x2="54.40" y2="689.60" stroke="#1a1a1a" stroke-width="1.2"/>
<text transform="translate(47.10,693.30) scale(0.95,1)" font-size="10.5" text-anchor="end" fill="#2b2b2b" >0</text>
<line x1="49.90" y1="646.13" x2="54.40" y2="646.13" stroke="#1a1a1a" stroke-width="1.2"/>
<text transform="translate(47.10,649.83) scale(0.95,1)" font-size="10.5" text-anchor="end" fill="#2b2b2b" >100</text>
<line x1="49.90" y1="602.66" x2="54.40" y2="602.66" stroke="#1a1a1a" stroke-width="1.2"/>
<text transform="translate(47.10,606.36) scale(0.95,1)" font-size="10.5" text-anchor="end" fill="#2b2b2b" >200</text>
<line x1="49.90" y1="559.19" x2="54.40" y2="559.19" stroke="#1a1a1a" stroke-width="1.2"/>
<text transform="translate(47.10,562.89) scale(0.95,1)" font-size="10.5" text-anchor="end" fill="#2b2b2b" >300</text>
<text transform="translate(24.70,622.30) rotate(-90)" font-size="11.2" text-anchor="middle" textLength="71.6" lengthAdjust="spacingAndGlyphs" fill="#1a1a1a">Heart iron (μg/g)</text>
<rect x="63.00" y="679.00" width="14.00" height="10.60" fill="#c5c5c8"/>
<rect x="86.50" y="655.00" width="14.00" height="34.60" fill="#cb0029"/>
<rect x="110.00" y="638.70" width="14.00" height="50.90" fill="#e2037b"/>
<rect x="133.50" y="620.00" width="14.00" height="69.60" fill="#8e83c0"/>
<rect x="157.00" y="677.10" width="14.00" height="12.50" fill="#c5c5c8"/>
<rect x="180.50" y="675.20" width="14.00" height="14.40" fill="#cb0029"/>
<rect x="204.00" y="668.00" width="14.00" height="21.60" fill="#e2037b"/>
<rect x="227.50" y="621.90" width="14.00" height="67.70" fill="#8e83c0"/>
<line x1="54.40" y1="689.60" x2="250.70" y2="689.60" stroke="#1a1a1a" stroke-width="1.5"/>
<line x1="70.00" y1="689.60" x2="70.00" y2="693.10" stroke="#1a1a1a" stroke-width="1.0"/>
<line x1="93.50" y1="689.60" x2="93.50" y2="693.10" stroke="#1a1a1a" stroke-width="1.0"/>
<line x1="117.00" y1="689.60" x2="117.00" y2="693.10" stroke="#1a1a1a" stroke-width="1.0"/>
<line x1="140.50" y1="689.60" x2="140.50" y2="693.10" stroke="#1a1a1a" stroke-width="1.0"/>
<line x1="164.00" y1="689.60" x2="164.00" y2="693.10" stroke="#1a1a1a" stroke-width="1.0"/>
<line x1="187.50" y1="689.60" x2="187.50" y2="693.10" stroke="#1a1a1a" stroke-width="1.0"/>
<line x1="211.00" y1="689.60" x2="211.00" y2="693.10" stroke="#1a1a1a" stroke-width="1.0"/>
<line x1="234.50" y1="689.60" x2="234.50" y2="693.10" stroke="#1a1a1a" stroke-width="1.0"/>
<text transform="translate(51.00,706.00) scale(0.93,1)" font-size="10.5" text-anchor="end" font-style="italic" fill="#2b2b2b" >Bmp5</text>
<text transform="translate(51.00,720.50) scale(0.93,1)" font-size="10.5" text-anchor="end" font-style="italic" fill="#2b2b2b" >Bmp6</text>
<text transform="translate(51.00,734.80) scale(0.9,1)" font-size="10.5" text-anchor="end" font-style="italic" fill="#2b2b2b" >Tek-Cre</text>
<text transform="translate(70.00,706.00) scale(0.93,1)" font-size="10.3" text-anchor="middle" font-style="italic" fill="#2b2b2b" >wt</text>
<text transform="translate(70.00,720.50) scale(0.93,1)" font-size="10.3" text-anchor="middle" font-style="italic" fill="#2b2b2b" >fl</text>
<text x="70.00" y="734.80" font-size="10" text-anchor="middle" fill="#2b2b2b" >–</text>
<text transform="translate(93.50,706.00) scale(0.93,1)" font-size="10.3" text-anchor="middle" font-style="italic" fill="#2b2b2b" >wt</text>
<text transform="translate(93.50,720.50) scale(0.93,1)" font-size="10.3" text-anchor="middle" font-style="italic" fill="#2b2b2b" >fl</text>
<text x="93.50" y="734.80" font-size="10" text-anchor="middle" fill="#2b2b2b" >+</text>
<text transform="translate(117.00,706.00) scale(0.93,1)" font-size="10.3" text-anchor="middle" font-style="italic" fill="#2b2b2b" >het</text>
<text transform="translate(117.00,720.50) scale(0.93,1)" font-size="10.3" text-anchor="middle" font-style="italic" fill="#2b2b2b" >fl</text>
<text x="117.00" y="734.80" font-size="10" text-anchor="middle" fill="#2b2b2b" >+</text>
<text transform="translate(140.50,706.00) scale(0.93,1)" font-size="10.3" text-anchor="middle" font-style="italic" fill="#2b2b2b" >se</text>
<text transform="translate(140.50,720.50) scale(0.93,1)" font-size="10.3" text-anchor="middle" font-style="italic" fill="#2b2b2b" >fl</text>
<text x="140.50" y="734.80" font-size="10" text-anchor="middle" fill="#2b2b2b" >+</text>
<text transform="translate(164.00,706.00) scale(0.93,1)" font-size="10.3" text-anchor="middle" font-style="italic" fill="#2b2b2b" >wt</text>
<text transform="translate(164.00,720.50) scale(0.93,1)" font-size="10.3" text-anchor="middle" font-style="italic" fill="#2b2b2b" >fl</text>
<text x="164.00" y="734.80" font-size="10" text-anchor="middle" fill="#2b2b2b" >–</text>
<text transform="translate(187.50,706.00) scale(0.93,1)" font-size="10.3" text-anchor="middle" font-style="italic" fill="#2b2b2b" >wt</text>
<text transform="translate(187.50,720.50) scale(0.93,1)" font-size="10.3" text-anchor="middle" font-style="italic" fill="#2b2b2b" >fl</text>
<text x="187.50" y="734.80" font-size="10" text-anchor="middle" fill="#2b2b2b" >+</text>
<text transform="translate(211.00,706.00) scale(0.93,1)" font-size="10.3" text-anchor="middle" font-style="italic" fill="#2b2b2b" >het</text>
<text transform="translate(211.00,720.50) scale(0.93,1)" font-size="10.3" text-anchor="middle" font-style="italic" fill="#2b2b2b" >fl</text>
<text x="211.00" y="734.80" font-size="10" text-anchor="middle" fill="#2b2b2b" >+</text>
<text transform="translate(234.50,706.00) scale(0.93,1)" font-size="10.3" text-anchor="middle" font-style="italic" fill="#2b2b2b" >se</text>
<text transform="translate(234.50,720.50) scale(0.93,1)" font-size="10.3" text-anchor="middle" font-style="italic" fill="#2b2b2b" >fl</text>
<text x="234.50" y="734.80" font-size="10" text-anchor="middle" fill="#2b2b2b" >+</text>
<line x1="64.25" y1="740.87" x2="150.00" y2="740.87" stroke="#1a1a1a" stroke-width="1.3"/>
<line x1="158.75" y1="740.87" x2="248.00" y2="740.87" stroke="#1a1a1a" stroke-width="1.3"/>
<text transform="translate(107.12,753.47) scale(0.9,1)" font-size="10.8" text-anchor="middle" fill="#2b2b2b" >Male</text>
<text transform="translate(203.38,753.47) scale(0.9,1)" font-size="10.8" text-anchor="middle" fill="#2b2b2b" >Female</text>
<line x1="70.00" y1="672.00" x2="70.00" y2="678.00" stroke="#1a1a1a" stroke-width="1.3"/>
<line x1="66.25" y1="672.00" x2="73.75" y2="672.00" stroke="#1a1a1a" stroke-width="1.3"/>
<line x1="66.25" y1="678.00" x2="73.75" y2="678.00" stroke="#1a1a1a" stroke-width="1.3"/>
<line x1="93.50" y1="648.30" x2="93.50" y2="662.00" stroke="#1a1a1a" stroke-width="1.3"/>
<line x1="89.75" y1="648.30" x2="97.25" y2="648.30" stroke="#1a1a1a" stroke-width="1.3"/>
<line x1="89.75" y1="662.00" x2="97.25" y2="662.00" stroke="#1a1a1a" stroke-width="1.3"/>
<line x1="117.00" y1="634.00" x2="117.00" y2="643.00" stroke="#1a1a1a" stroke-width="1.3"/>
<line x1="113.25" y1="634.00" x2="120.75" y2="634.00" stroke="#1a1a1a" stroke-width="1.3"/>
<line x1="113.25" y1="643.00" x2="120.75" y2="643.00" stroke="#1a1a1a" stroke-width="1.3"/>
<line x1="140.50" y1="611.30" x2="140.50" y2="628.00" stroke="#1a1a1a" stroke-width="1.3"/>
<line x1="136.75" y1="611.30" x2="144.25" y2="611.30" stroke="#1a1a1a" stroke-width="1.3"/>
<line x1="136.75" y1="628.00" x2="144.25" y2="628.00" stroke="#1a1a1a" stroke-width="1.3"/>
<line x1="164.00" y1="672.00" x2="164.00" y2="680.00" stroke="#1a1a1a" stroke-width="1.3"/>
<line x1="160.25" y1="672.00" x2="167.75" y2="672.00" stroke="#1a1a1a" stroke-width="1.3"/>
<line x1="160.25" y1="680.00" x2="167.75" y2="680.00" stroke="#1a1a1a" stroke-width="1.3"/>
<line x1="187.50" y1="670.00" x2="187.50" y2="679.00" stroke="#1a1a1a" stroke-width="1.3"/>
<line x1="183.75" y1="670.00" x2="191.25" y2="670.00" stroke="#1a1a1a" stroke-width="1.3"/>
<line x1="183.75" y1="679.00" x2="191.25" y2="679.00" stroke="#1a1a1a" stroke-width="1.3"/>
<line x1="211.00" y1="661.70" x2="211.00" y2="673.00" stroke="#1a1a1a" stroke-width="1.3"/>
<line x1="207.25" y1="661.70" x2="214.75" y2="661.70" stroke="#1a1a1a" stroke-width="1.3"/>
<line x1="207.25" y1="673.00" x2="214.75" y2="673.00" stroke="#1a1a1a" stroke-width="1.3"/>
<line x1="234.50" y1="618.00" x2="234.50" y2="626.00" stroke="#1a1a1a" stroke-width="1.3"/>
<line x1="230.75" y1="618.00" x2="238.25" y2="618.00" stroke="#1a1a1a" stroke-width="1.3"/>
<line x1="230.75" y1="626.00" x2="238.25" y2="626.00" stroke="#1a1a1a" stroke-width="1.3"/>
<circle cx="63.50" cy="670.50" r="1.95" fill="none" stroke="#1a1a1a" stroke-width="1.2"/>
<circle cx="70.00" cy="668.50" r="1.95" fill="none" stroke="#1a1a1a" stroke-width="1.2"/>
<circle cx="77.00" cy="670.50" r="1.95" fill="none" stroke="#1a1a1a" stroke-width="1.2"/>
<circle cx="63.50" cy="677.00" r="1.95" fill="none" stroke="#1a1a1a" stroke-width="1.2"/>
<circle cx="67.00" cy="675.50" r="1.95" fill="none" stroke="#1a1a1a" stroke-width="1.2"/>
<circle cx="70.00" cy="675.00" r="1.95" fill="none" stroke="#1a1a1a" stroke-width="1.2"/>
<circle cx="73.00" cy="675.50" r="1.95" fill="none" stroke="#1a1a1a" stroke-width="1.2"/>
<circle cx="77.00" cy="677.00" r="1.95" fill="none" stroke="#1a1a1a" stroke-width="1.2"/>
<circle cx="67.00" cy="670.00" r="1.95" fill="none" stroke="#1a1a1a" stroke-width="1.2"/>
<circle cx="93.50" cy="634.40" r="1.95" fill="none" stroke="#1a1a1a" stroke-width="1.2"/>
<circle cx="93.50" cy="644.40" r="1.95" fill="none" stroke="#1a1a1a" stroke-width="1.2"/>
<circle cx="93.50" cy="650.20" r="1.95" fill="none" stroke="#1a1a1a" stroke-width="1.2"/>
<circle cx="93.50" cy="658.50" r="1.95" fill="none" stroke="#1a1a1a" stroke-width="1.2"/>
<circle cx="93.50" cy="664.60" r="1.95" fill="none" stroke="#1a1a1a" stroke-width="1.2"/>
<circle cx="93.50" cy="672.00" r="1.95" fill="none" stroke="#1a1a1a" stroke-width="1.2"/>
<circle cx="117.00" cy="617.00" r="1.95" fill="none" stroke="#1a1a1a" stroke-width="1.2"/>
<circle cx="111.00" cy="637.00" r="1.95" fill="none" stroke="#1a1a1a" stroke-width="1.2"/>
<circle cx="115.00" cy="634.00" r="1.95" fill="none" stroke="#1a1a1a" stroke-width="1.2"/>
<circle cx="119.00" cy="633.00" r="1.95" fill="none" stroke="#1a1a1a" stroke-width="1.2"/>
<circle cx="123.50" cy="636.00" r="1.95" fill="none" stroke="#1a1a1a" stroke-width="1.2"/>
<circle cx="113.00" cy="640.00" r="1.95" fill="none" stroke="#1a1a1a" stroke-width="1.2"/>
<circle cx="117.00" cy="644.00" r="1.95" fill="none" stroke="#1a1a1a" stroke-width="1.2"/>
<circle cx="117.00" cy="648.80" r="1.95" fill="none" stroke="#1a1a1a" stroke-width="1.2"/>
<circle cx="114.00" cy="651.70" r="1.95" fill="none" stroke="#1a1a1a" stroke-width="1.2"/>
<circle cx="119.00" cy="652.00" r="1.95" fill="none" stroke="#1a1a1a" stroke-width="1.2"/>
<circle cx="140.70" cy="580.40" r="1.95" fill="none" stroke="#1a1a1a" stroke-width="1.2"/>
<circle cx="140.70" cy="621.90" r="1.95" fill="none" stroke="#1a1a1a" stroke-width="1.2"/>
<circle cx="136.50" cy="625.20" r="1.95" fill="none" stroke="#1a1a1a" stroke-width="1.2"/>
<circle cx="145.00" cy="625.00" r="1.95" fill="none" stroke="#1a1a1a" stroke-width="1.2"/>
<circle cx="134.50" cy="630.00" r="1.95" fill="none" stroke="#1a1a1a" stroke-width="1.2"/>
<circle cx="140.70" cy="630.00" r="1.95" fill="none" stroke="#1a1a1a" stroke-width="1.2"/>
<circle cx="147.00" cy="630.00" r="1.95" fill="none" stroke="#1a1a1a" stroke-width="1.2"/>
<circle cx="164.00" cy="668.50" r="2.0" fill="#1a1a1a"/>
<circle cx="167.50" cy="672.30" r="2.0" fill="#1a1a1a"/>
<circle cx="158.00" cy="676.50" r="2.0" fill="#1a1a1a"/>
<circle cx="162.00" cy="675.00" r="2.0" fill="#1a1a1a"/>
<circle cx="166.00" cy="675.00" r="2.0" fill="#1a1a1a"/>
<circle cx="170.00" cy="676.00" r="2.0" fill="#1a1a1a"/>
<circle cx="171.00" cy="678.00" r="2.0" fill="#1a1a1a"/>
<circle cx="187.00" cy="668.00" r="2.0" fill="#1a1a1a"/>
<circle cx="192.00" cy="668.00" r="2.0" fill="#1a1a1a"/>
<circle cx="185.00" cy="672.00" r="2.0" fill="#1a1a1a"/>
<circle cx="189.00" cy="673.00" r="2.0" fill="#1a1a1a"/>
<circle cx="182.00" cy="676.00" r="2.0" fill="#1a1a1a"/>
<circle cx="186.00" cy="676.00" r="2.0" fill="#1a1a1a"/>
<circle cx="190.00" cy="676.00" r="2.0" fill="#1a1a1a"/>
<circle cx="194.00" cy="676.00" r="2.0" fill="#1a1a1a"/>
<circle cx="211.20" cy="627.50" r="2.0" fill="#1a1a1a"/>
<circle cx="207.00" cy="668.00" r="2.0" fill="#1a1a1a"/>
<circle cx="215.00" cy="667.00" r="2.0" fill="#1a1a1a"/>
<circle cx="204.50" cy="668.00" r="2.0" fill="#1a1a1a"/>
<circle cx="211.00" cy="670.00" r="2.0" fill="#1a1a1a"/>
<circle cx="218.00" cy="668.00" r="2.0" fill="#1a1a1a"/>
<circle cx="206.00" cy="675.00" r="2.0" fill="#1a1a1a"/>
<circle cx="211.00" cy="676.00" r="2.0" fill="#1a1a1a"/>
<circle cx="216.00" cy="676.00" r="2.0" fill="#1a1a1a"/>
<circle cx="218.00" cy="672.00" r="2.0" fill="#1a1a1a"/>
<circle cx="234.70" cy="609.80" r="2.0" fill="#1a1a1a"/>
<circle cx="234.70" cy="615.00" r="2.0" fill="#1a1a1a"/>
<circle cx="230.50" cy="621.30" r="2.0" fill="#1a1a1a"/>
<circle cx="239.00" cy="621.30" r="2.0" fill="#1a1a1a"/>
<circle cx="230.50" cy="629.00" r="2.0" fill="#1a1a1a"/>
<circle cx="239.00" cy="627.70" r="2.0" fill="#1a1a1a"/>
<line x1="62.10" y1="545.30" x2="137.70" y2="545.30" stroke="#444" stroke-width="1.4"/>
<polygon points="95.60,539.00 96.16,540.33 97.60,540.45 96.50,541.39 96.83,542.80 95.60,542.05 94.37,542.80 94.70,541.39 93.60,540.45 95.04,540.33" fill="#1a1a1a"/>
<polygon points="99.90,539.00 100.46,540.33 101.90,540.45 100.80,541.39 101.13,542.80 99.90,542.05 98.67,542.80 99.00,541.39 97.90,540.45 99.34,540.33" fill="#1a1a1a"/>
<polygon points="104.20,539.00 104.76,540.33 106.20,540.45 105.10,541.39 105.43,542.80 104.20,542.05 102.97,542.80 103.30,541.39 102.20,540.45 103.64,540.33" fill="#1a1a1a"/>
<line x1="60.80" y1="558.40" x2="90.60" y2="558.40" stroke="#444" stroke-width="1.4"/>
<polygon points="75.70,552.10 76.26,553.43 77.70,553.55 76.60,554.49 76.93,555.90 75.70,555.15 74.47,555.90 74.80,554.49 73.70,553.55 75.14,553.43" fill="#1a1a1a"/>
<line x1="93.50" y1="558.40" x2="141.50" y2="558.40" stroke="#444" stroke-width="1.4"/>
<polygon points="113.20,552.10 113.76,553.43 115.20,553.55 114.10,554.49 114.43,555.90 113.20,555.15 111.97,555.90 112.30,554.49 111.20,553.55 112.64,553.43" fill="#1a1a1a"/>
<polygon points="117.50,552.10 118.06,553.43 119.50,553.55 118.40,554.49 118.73,555.90 117.50,555.15 116.27,555.90 116.60,554.49 115.50,553.55 116.94,553.43" fill="#1a1a1a"/>
<polygon points="121.80,552.10 122.36,553.43 123.80,553.55 122.70,554.49 123.03,555.90 121.80,555.15 120.57,555.90 120.90,554.49 119.80,553.55 121.24,553.43" fill="#1a1a1a"/>
<line x1="62.10" y1="569.30" x2="109.40" y2="569.30" stroke="#444" stroke-width="1.4"/>
<polygon points="81.45,563.00 82.01,564.33 83.45,564.45 82.35,565.39 82.68,566.80 81.45,566.05 80.22,566.80 80.55,565.39 79.45,564.45 80.89,564.33" fill="#1a1a1a"/>
<polygon points="85.75,563.00 86.31,564.33 87.75,564.45 86.65,565.39 86.98,566.80 85.75,566.05 84.52,566.80 84.85,565.39 83.75,564.45 85.19,564.33" fill="#1a1a1a"/>
<polygon points="90.05,563.00 90.61,564.33 92.05,564.45 90.95,565.39 91.28,566.80 90.05,566.05 88.82,566.80 89.15,565.39 88.05,564.45 89.49,564.33" fill="#1a1a1a"/>
<line x1="112.10" y1="569.30" x2="141.50" y2="569.30" stroke="#444" stroke-width="1.4"/>
<polygon points="126.80,563.00 127.36,564.33 128.80,564.45 127.70,565.39 128.03,566.80 126.80,566.05 125.57,566.80 125.90,565.39 124.80,564.45 126.24,564.33" fill="#1a1a1a"/>
<line x1="157.10" y1="545.30" x2="233.10" y2="545.30" stroke="#444" stroke-width="1.4"/>
<polygon points="190.80,539.00 191.36,540.33 192.80,540.45 191.70,541.39 192.03,542.80 190.80,542.05 189.57,542.80 189.90,541.39 188.80,540.45 190.24,540.33" fill="#1a1a1a"/>
<polygon points="195.10,539.00 195.66,540.33 197.10,540.45 196.00,541.39 196.33,542.80 195.10,542.05 193.87,542.80 194.20,541.39 193.10,540.45 194.54,540.33" fill="#1a1a1a"/>
<polygon points="199.40,539.00 199.96,540.33 201.40,540.45 200.30,541.39 200.63,542.80 199.40,542.05 198.17,542.80 198.50,541.39 197.40,540.45 198.84,540.33" fill="#1a1a1a"/>
<line x1="189.00" y1="558.40" x2="236.90" y2="558.40" stroke="#444" stroke-width="1.4"/>
<polygon points="208.65,552.10 209.21,553.43 210.65,553.55 209.55,554.49 209.88,555.90 208.65,555.15 207.42,555.90 207.75,554.49 206.65,553.55 208.09,553.43" fill="#1a1a1a"/>
<polygon points="212.95,552.10 213.51,553.43 214.95,553.55 213.85,554.49 214.18,555.90 212.95,555.15 211.72,555.90 212.05,554.49 210.95,553.55 212.39,553.43" fill="#1a1a1a"/>
<polygon points="217.25,552.10 217.81,553.43 219.25,553.55 218.15,554.49 218.48,555.90 217.25,555.15 216.02,555.90 216.35,554.49 215.25,553.55 216.69,553.43" fill="#1a1a1a"/>
<line x1="206.70" y1="569.30" x2="236.90" y2="569.30" stroke="#444" stroke-width="1.4"/>
<polygon points="217.50,563.00 218.06,564.33 219.50,564.45 218.40,565.39 218.73,566.80 217.50,566.05 216.27,566.80 216.60,565.39 215.50,564.45 216.94,564.33" fill="#1a1a1a"/>
<polygon points="221.80,563.00 222.36,564.33 223.80,564.45 222.70,565.39 223.03,566.80 221.80,566.05 220.57,566.80 220.90,565.39 219.80,564.45 221.24,564.33" fill="#1a1a1a"/>
<polygon points="226.10,563.00 226.66,564.33 228.10,564.45 227.00,565.39 227.33,566.80 226.10,566.05 224.87,566.80 225.20,565.39 224.10,564.45 225.54,564.33" fill="#1a1a1a"/>
<text x="270.20" y="533.10" font-size="13.6" text-anchor="start" font-weight="bold" fill="#1a1a1a" >F</text>
<line x1="315.30" y1="555.50" x2="315.30" y2="689.60" stroke="#1a1a1a" stroke-width="1.4"/>
<line x1="310.80" y1="689.60" x2="315.30" y2="689.60" stroke="#1a1a1a" stroke-width="1.2"/>
<text transform="translate(308.00,693.30) scale(0.95,1)" font-size="10.5" text-anchor="end" fill="#2b2b2b" >0</text>
<line x1="310.80" y1="663.52" x2="315.30" y2="663.52" stroke="#1a1a1a" stroke-width="1.2"/>
<text transform="translate(308.00,667.22) scale(0.95,1)" font-size="10.5" text-anchor="end" fill="#2b2b2b" >50</text>
<line x1="310.80" y1="637.44" x2="315.30" y2="637.44" stroke="#1a1a1a" stroke-width="1.2"/>
<text transform="translate(308.00,641.14) scale(0.95,1)" font-size="10.5" text-anchor="end" fill="#2b2b2b" >100</text>
<line x1="310.80" y1="611.36" x2="315.30" y2="611.36" stroke="#1a1a1a" stroke-width="1.2"/>
<text transform="translate(308.00,615.06) scale(0.95,1)" font-size="10.5" text-anchor="end" fill="#2b2b2b" >150</text>
<line x1="310.80" y1="585.28" x2="315.30" y2="585.28" stroke="#1a1a1a" stroke-width="1.2"/>
<text transform="translate(308.00,588.98) scale(0.95,1)" font-size="10.5" text-anchor="end" fill="#2b2b2b" >200</text>
<line x1="310.80" y1="559.20" x2="315.30" y2="559.20" stroke="#1a1a1a" stroke-width="1.2"/>
<text transform="translate(308.00,562.90) scale(0.95,1)" font-size="10.5" text-anchor="end" fill="#2b2b2b" >250</text>
<text transform="translate(285.50,622.50) rotate(-90)" font-size="11.2" text-anchor="middle" textLength="77.5" lengthAdjust="spacingAndGlyphs" fill="#1a1a1a">Kidney iron (μg/g)</text>
<rect x="324.00" y="677.00" width="14.00" height="12.60" fill="#c5c5c8"/>
<rect x="347.50" y="655.40" width="14.00" height="34.20" fill="#cb0029"/>
<rect x="371.00" y="644.80" width="14.00" height="44.80" fill="#e2037b"/>
<rect x="394.50" y="621.00" width="14.00" height="68.60" fill="#8e83c0"/>
<rect x="418.00" y="672.90" width="14.00" height="16.70" fill="#c5c5c8"/>
<rect x="441.50" y="673.50" width="14.00" height="16.10" fill="#cb0029"/>
<rect x="465.00" y="671.00" width="14.00" height="18.60" fill="#e2037b"/>
<rect x="488.50" y="608.80" width="14.00" height="80.80" fill="#8e83c0"/>
<line x1="315.30" y1="689.60" x2="511.50" y2="689.60" stroke="#1a1a1a" stroke-width="1.5"/>
<line x1="331.00" y1="689.60" x2="331.00" y2="693.10" stroke="#1a1a1a" stroke-width="1.0"/>
<line x1="354.50" y1="689.60" x2="354.50" y2="693.10" stroke="#1a1a1a" stroke-width="1.0"/>
<line x1="378.00" y1="689.60" x2="378.00" y2="693.10" stroke="#1a1a1a" stroke-width="1.0"/>
<line x1="401.50" y1="689.60" x2="401.50" y2="693.10" stroke="#1a1a1a" stroke-width="1.0"/>
<line x1="425.00" y1="689.60" x2="425.00" y2="693.10" stroke="#1a1a1a" stroke-width="1.0"/>
<line x1="448.50" y1="689.60" x2="448.50" y2="693.10" stroke="#1a1a1a" stroke-width="1.0"/>
<line x1="472.00" y1="689.60" x2="472.00" y2="693.10" stroke="#1a1a1a" stroke-width="1.0"/>
<line x1="495.50" y1="689.60" x2="495.50" y2="693.10" stroke="#1a1a1a" stroke-width="1.0"/>
<text transform="translate(312.00,706.00) scale(0.93,1)" font-size="10.5" text-anchor="end" font-style="italic" fill="#2b2b2b" >Bmp5</text>
<text transform="translate(312.00,720.50) scale(0.93,1)" font-size="10.5" text-anchor="end" font-style="italic" fill="#2b2b2b" >Bmp6</text>
<text transform="translate(312.00,734.80) scale(0.9,1)" font-size="10.5" text-anchor="end" font-style="italic" fill="#2b2b2b" >Tek-Cre</text>
<text transform="translate(331.00,706.00) scale(0.93,1)" font-size="10.3" text-anchor="middle" font-style="italic" fill="#2b2b2b" >wt</text>
<text transform="translate(331.00,720.50) scale(0.93,1)" font-size="10.3" text-anchor="middle" font-style="italic" fill="#2b2b2b" >fl</text>
<text x="331.00" y="734.80" font-size="10" text-anchor="middle" fill="#2b2b2b" >–</text>
<text transform="translate(354.50,706.00) scale(0.93,1)" font-size="10.3" text-anchor="middle" font-style="italic" fill="#2b2b2b" >wt</text>
<text transform="translate(354.50,720.50) scale(0.93,1)" font-size="10.3" text-anchor="middle" font-style="italic" fill="#2b2b2b" >fl</text>
<text x="354.50" y="734.80" font-size="10" text-anchor="middle" fill="#2b2b2b" >+</text>
<text transform="translate(378.00,706.00) scale(0.93,1)" font-size="10.3" text-anchor="middle" font-style="italic" fill="#2b2b2b" >het</text>
<text transform="translate(378.00,720.50) scale(0.93,1)" font-size="10.3" text-anchor="middle" font-style="italic" fill="#2b2b2b" >fl</text>
<text x="378.00" y="734.80" font-size="10" text-anchor="middle" fill="#2b2b2b" >+</text>
<text transform="translate(401.50,706.00) scale(0.93,1)" font-size="10.3" text-anchor="middle" font-style="italic" fill="#2b2b2b" >se</text>
<text transform="translate(401.50,720.50) scale(0.93,1)" font-size="10.3" text-anchor="middle" font-style="italic" fill="#2b2b2b" >fl</text>
<text x="401.50" y="734.80" font-size="10" text-anchor="middle" fill="#2b2b2b" >+</text>
<text transform="translate(425.00,706.00) scale(0.93,1)" font-size="10.3" text-anchor="middle" font-style="italic" fill="#2b2b2b" >wt</text>
<text transform="translate(425.00,720.50) scale(0.93,1)" font-size="10.3" text-anchor="middle" font-style="italic" fill="#2b2b2b" >fl</text>
<text x="425.00" y="734.80" font-size="10" text-anchor="middle" fill="#2b2b2b" >–</text>
<text transform="translate(448.50,706.00) scale(0.93,1)" font-size="10.3" text-anchor="middle" font-style="italic" fill="#2b2b2b" >wt</text>
<text transform="translate(448.50,720.50) scale(0.93,1)" font-size="10.3" text-anchor="middle" font-style="italic" fill="#2b2b2b" >fl</text>
<text x="448.50" y="734.80" font-size="10" text-anchor="middle" fill="#2b2b2b" >+</text>
<text transform="translate(472.00,706.00) scale(0.93,1)" font-size="10.3" text-anchor="middle" font-style="italic" fill="#2b2b2b" >het</text>
<text transform="translate(472.00,720.50) scale(0.93,1)" font-size="10.3" text-anchor="middle" font-style="italic" fill="#2b2b2b" >fl</text>
<text x="472.00" y="734.80" font-size="10" text-anchor="middle" fill="#2b2b2b" >+</text>
<text transform="translate(495.50,706.00) scale(0.93,1)" font-size="10.3" text-anchor="middle" font-style="italic" fill="#2b2b2b" >se</text>
<text transform="translate(495.50,720.50) scale(0.93,1)" font-size="10.3" text-anchor="middle" font-style="italic" fill="#2b2b2b" >fl</text>
<text x="495.50" y="734.80" font-size="10" text-anchor="middle" fill="#2b2b2b" >+</text>
<line x1="325.00" y1="740.87" x2="411.00" y2="740.87" stroke="#1a1a1a" stroke-width="1.3"/>
<line x1="419.00" y1="740.87" x2="509.20" y2="740.87" stroke="#1a1a1a" stroke-width="1.3"/>
<text transform="translate(368.00,753.47) scale(0.9,1)" font-size="10.8" text-anchor="middle" fill="#2b2b2b" >Male</text>
<text transform="translate(464.10,753.47) scale(0.9,1)" font-size="10.8" text-anchor="middle" fill="#2b2b2b" >Female</text>
<line x1="331.00" y1="673.00" x2="331.00" y2="680.00" stroke="#1a1a1a" stroke-width="1.3"/>
<line x1="327.25" y1="673.00" x2="334.75" y2="673.00" stroke="#1a1a1a" stroke-width="1.3"/>
<line x1="327.25" y1="680.00" x2="334.75" y2="680.00" stroke="#1a1a1a" stroke-width="1.3"/>
<line x1="354.50" y1="649.60" x2="354.50" y2="662.00" stroke="#1a1a1a" stroke-width="1.3"/>
<line x1="350.75" y1="649.60" x2="358.25" y2="649.60" stroke="#1a1a1a" stroke-width="1.3"/>
<line x1="350.75" y1="662.00" x2="358.25" y2="662.00" stroke="#1a1a1a" stroke-width="1.3"/>
<line x1="378.00" y1="640.00" x2="378.00" y2="650.00" stroke="#1a1a1a" stroke-width="1.3"/>
<line x1="374.25" y1="640.00" x2="381.75" y2="640.00" stroke="#1a1a1a" stroke-width="1.3"/>
<line x1="374.25" y1="650.00" x2="381.75" y2="650.00" stroke="#1a1a1a" stroke-width="1.3"/>
<line x1="401.50" y1="609.20" x2="401.50" y2="629.60" stroke="#1a1a1a" stroke-width="1.3"/>
<line x1="397.75" y1="609.20" x2="405.25" y2="609.20" stroke="#1a1a1a" stroke-width="1.3"/>
<line x1="397.75" y1="629.60" x2="405.25" y2="629.60" stroke="#1a1a1a" stroke-width="1.3"/>
<line x1="425.00" y1="669.00" x2="425.00" y2="676.00" stroke="#1a1a1a" stroke-width="1.3"/>
<line x1="421.25" y1="669.00" x2="428.75" y2="669.00" stroke="#1a1a1a" stroke-width="1.3"/>
<line x1="421.25" y1="676.00" x2="428.75" y2="676.00" stroke="#1a1a1a" stroke-width="1.3"/>
<line x1="448.50" y1="669.00" x2="448.50" y2="678.00" stroke="#1a1a1a" stroke-width="1.3"/>
<line x1="444.75" y1="669.00" x2="452.25" y2="669.00" stroke="#1a1a1a" stroke-width="1.3"/>
<line x1="444.75" y1="678.00" x2="452.25" y2="678.00" stroke="#1a1a1a" stroke-width="1.3"/>
<line x1="472.00" y1="666.50" x2="472.00" y2="675.00" stroke="#1a1a1a" stroke-width="1.3"/>
<line x1="468.25" y1="666.50" x2="475.75" y2="666.50" stroke="#1a1a1a" stroke-width="1.3"/>
<line x1="468.25" y1="675.00" x2="475.75" y2="675.00" stroke="#1a1a1a" stroke-width="1.3"/>
<line x1="495.50" y1="599.20" x2="495.50" y2="614.60" stroke="#1a1a1a" stroke-width="1.3"/>
<line x1="491.75" y1="599.20" x2="499.25" y2="599.20" stroke="#1a1a1a" stroke-width="1.3"/>
<line x1="491.75" y1="614.60" x2="499.25" y2="614.60" stroke="#1a1a1a" stroke-width="1.3"/>
<circle cx="325.00" cy="672.70" r="1.95" fill="none" stroke="#1a1a1a" stroke-width="1.2"/>
<circle cx="329.00" cy="673.00" r="1.95" fill="none" stroke="#1a1a1a" stroke-width="1.2"/>
<circle cx="333.00" cy="672.00" r="1.95" fill="none" stroke="#1a1a1a" stroke-width="1.2"/>
<circle cx="337.00" cy="672.50" r="1.95" fill="none" stroke="#1a1a1a" stroke-width="1.2"/>
<circle cx="325.00" cy="677.00" r="1.95" fill="none" stroke="#1a1a1a" stroke-width="1.2"/>
<circle cx="329.00" cy="676.50" r="1.95" fill="none" stroke="#1a1a1a" stroke-width="1.2"/>
<circle cx="333.00" cy="676.00" r="1.95" fill="none" stroke="#1a1a1a" stroke-width="1.2"/>
<circle cx="337.00" cy="677.00" r="1.95" fill="none" stroke="#1a1a1a" stroke-width="1.2"/>
<circle cx="338.50" cy="675.00" r="1.95" fill="none" stroke="#1a1a1a" stroke-width="1.2"/>
<circle cx="351.00" cy="642.10" r="1.95" fill="none" stroke="#1a1a1a" stroke-width="1.2"/>
<circle cx="358.50" cy="640.20" r="1.95" fill="none" stroke="#1a1a1a" stroke-width="1.2"/>
<circle cx="354.70" cy="648.30" r="1.95" fill="none" stroke="#1a1a1a" stroke-width="1.2"/>
<circle cx="354.70" cy="656.50" r="1.95" fill="none" stroke="#1a1a1a" stroke-width="1.2"/>
<circle cx="351.00" cy="669.00" r="1.95" fill="none" stroke="#1a1a1a" stroke-width="1.2"/>
<circle cx="358.50" cy="667.50" r="1.95" fill="none" stroke="#1a1a1a" stroke-width="1.2"/>
<circle cx="378.00" cy="623.30" r="1.95" fill="none" stroke="#1a1a1a" stroke-width="1.2"/>
<circle cx="371.50" cy="639.00" r="1.95" fill="none" stroke="#1a1a1a" stroke-width="1.2"/>
<circle cx="384.50" cy="635.20" r="1.95" fill="none" stroke="#1a1a1a" stroke-width="1.2"/>
<circle cx="376.00" cy="641.00" r="1.95" fill="none" stroke="#1a1a1a" stroke-width="1.2"/>
<circle cx="380.00" cy="640.00" r="1.95" fill="none" stroke="#1a1a1a" stroke-width="1.2"/>
<circle cx="384.50" cy="641.00" r="1.95" fill="none" stroke="#1a1a1a" stroke-width="1.2"/>
<circle cx="378.00" cy="645.40" r="1.95" fill="none" stroke="#1a1a1a" stroke-width="1.2"/>
<circle cx="374.00" cy="652.00" r="1.95" fill="none" stroke="#1a1a1a" stroke-width="1.2"/>
<circle cx="381.00" cy="652.00" r="1.95" fill="none" stroke="#1a1a1a" stroke-width="1.2"/>
<circle cx="384.00" cy="649.00" r="1.95" fill="none" stroke="#1a1a1a" stroke-width="1.2"/>
<circle cx="378.00" cy="662.70" r="1.95" fill="none" stroke="#1a1a1a" stroke-width="1.2"/>
<circle cx="401.60" cy="575.20" r="1.95" fill="none" stroke="#1a1a1a" stroke-width="1.2"/>
<circle cx="401.60" cy="616.20" r="1.95" fill="none" stroke="#1a1a1a" stroke-width="1.2"/>
<circle cx="401.60" cy="621.30" r="1.95" fill="none" stroke="#1a1a1a" stroke-width="1.2"/>
<circle cx="401.60" cy="628.00" r="1.95" fill="none" stroke="#1a1a1a" stroke-width="1.2"/>
<circle cx="401.60" cy="634.40" r="1.95" fill="none" stroke="#1a1a1a" stroke-width="1.2"/>
<circle cx="401.60" cy="645.80" r="1.95" fill="none" stroke="#1a1a1a" stroke-width="1.2"/>
<circle cx="419.00" cy="672.00" r="2.0" fill="#1a1a1a"/>
<circle cx="422.00" cy="670.00" r="2.0" fill="#1a1a1a"/>
<circle cx="425.00" cy="671.00" r="2.0" fill="#1a1a1a"/>
<circle cx="428.00" cy="673.00" r="2.0" fill="#1a1a1a"/>
<circle cx="431.00" cy="673.00" r="2.0" fill="#1a1a1a"/>
<circle cx="425.00" cy="678.70" r="2.0" fill="#1a1a1a"/>
<circle cx="448.70" cy="663.30" r="2.0" fill="#1a1a1a"/>
<circle cx="442.70" cy="669.00" r="2.0" fill="#1a1a1a"/>
<circle cx="454.50" cy="668.00" r="2.0" fill="#1a1a1a"/>
<circle cx="442.70" cy="676.00" r="2.0" fill="#1a1a1a"/>
<circle cx="445.00" cy="675.00" r="2.0" fill="#1a1a1a"/>
<circle cx="449.00" cy="674.00" r="2.0" fill="#1a1a1a"/>
<circle cx="452.00" cy="676.00" r="2.0" fill="#1a1a1a"/>
<circle cx="454.50" cy="675.00" r="2.0" fill="#1a1a1a"/>
<circle cx="442.70" cy="678.70" r="2.0" fill="#1a1a1a"/>
<circle cx="472.00" cy="646.00" r="2.0" fill="#1a1a1a"/>
<circle cx="466.00" cy="670.00" r="2.0" fill="#1a1a1a"/>
<circle cx="470.00" cy="669.00" r="2.0" fill="#1a1a1a"/>
<circle cx="474.00" cy="668.00" r="2.0" fill="#1a1a1a"/>
<circle cx="478.00" cy="667.00" r="2.0" fill="#1a1a1a"/>
<circle cx="468.00" cy="672.00" r="2.0" fill="#1a1a1a"/>
<circle cx="472.00" cy="673.00" r="2.0" fill="#1a1a1a"/>
<circle cx="476.00" cy="672.00" r="2.0" fill="#1a1a1a"/>
<circle cx="468.00" cy="677.00" r="2.0" fill="#1a1a1a"/>
<circle cx="495.60" cy="574.60" r="2.0" fill="#1a1a1a"/>
<circle cx="495.60" cy="599.50" r="2.0" fill="#1a1a1a"/>
<circle cx="495.60" cy="609.40" r="2.0" fill="#1a1a1a"/>
<circle cx="489.00" cy="622.50" r="2.0" fill="#1a1a1a"/>
<circle cx="495.60" cy="619.60" r="2.0" fill="#1a1a1a"/>
<circle cx="502.00" cy="619.60" r="2.0" fill="#1a1a1a"/>
<line x1="322.70" y1="545.30" x2="398.70" y2="545.30" stroke="#444" stroke-width="1.4"/>
<polygon points="356.40,539.00 356.96,540.33 358.40,540.45 357.30,541.39 357.63,542.80 356.40,542.05 355.17,542.80 355.50,541.39 354.40,540.45 355.84,540.33" fill="#1a1a1a"/>
<polygon points="360.70,539.00 361.26,540.33 362.70,540.45 361.60,541.39 361.93,542.80 360.70,542.05 359.47,542.80 359.80,541.39 358.70,540.45 360.14,540.33" fill="#1a1a1a"/>
<polygon points="365.00,539.00 365.56,540.33 367.00,540.45 365.90,541.39 366.23,542.80 365.00,542.05 363.77,542.80 364.10,541.39 363.00,540.45 364.44,540.33" fill="#1a1a1a"/>
<line x1="321.70" y1="558.40" x2="351.50" y2="558.40" stroke="#444" stroke-width="1.4"/>
<polygon points="332.30,552.10 332.86,553.43 334.30,553.55 333.20,554.49 333.53,555.90 332.30,555.15 331.07,555.90 331.40,554.49 330.30,553.55 331.74,553.43" fill="#1a1a1a"/>
<polygon points="336.60,552.10 337.16,553.43 338.60,553.55 337.50,554.49 337.83,555.90 336.60,555.15 335.37,555.90 335.70,554.49 334.60,553.55 336.04,553.43" fill="#1a1a1a"/>
<polygon points="340.90,552.10 341.46,553.43 342.90,553.55 341.80,554.49 342.13,555.90 340.90,555.15 339.67,555.90 340.00,554.49 338.90,553.55 340.34,553.43" fill="#1a1a1a"/>
<line x1="354.40" y1="558.40" x2="402.50" y2="558.40" stroke="#444" stroke-width="1.4"/>
<polygon points="374.15,552.10 374.71,553.43 376.15,553.55 375.05,554.49 375.38,555.90 374.15,555.15 372.92,555.90 373.25,554.49 372.15,553.55 373.59,553.43" fill="#1a1a1a"/>
<polygon points="378.45,552.10 379.01,553.43 380.45,553.55 379.35,554.49 379.68,555.90 378.45,555.15 377.22,555.90 377.55,554.49 376.45,553.55 377.89,553.43" fill="#1a1a1a"/>
<polygon points="382.75,552.10 383.31,553.43 384.75,553.55 383.65,554.49 383.98,555.90 382.75,555.15 381.52,555.90 381.85,554.49 380.75,553.55 382.19,553.43" fill="#1a1a1a"/>
<line x1="323.00" y1="569.50" x2="370.40" y2="569.50" stroke="#444" stroke-width="1.4"/>
<polygon points="342.40,563.20 342.96,564.53 344.40,564.65 343.30,565.59 343.63,567.00 342.40,566.25 341.17,567.00 341.50,565.59 340.40,564.65 341.84,564.53" fill="#1a1a1a"/>
<polygon points="346.70,563.20 347.26,564.53 348.70,564.65 347.60,565.59 347.93,567.00 346.70,566.25 345.47,567.00 345.80,565.59 344.70,564.65 346.14,564.53" fill="#1a1a1a"/>
<polygon points="351.00,563.20 351.56,564.53 353.00,564.65 351.90,565.59 352.23,567.00 351.00,566.25 349.77,567.00 350.10,565.59 349.00,564.65 350.44,564.53" fill="#1a1a1a"/>
<line x1="372.70" y1="569.50" x2="403.00" y2="569.50" stroke="#444" stroke-width="1.4"/>
<polygon points="387.85,563.20 388.41,564.53 389.85,564.65 388.75,565.59 389.08,567.00 387.85,566.25 386.62,567.00 386.95,565.59 385.85,564.65 387.29,564.53" fill="#1a1a1a"/>
<line x1="417.70" y1="545.30" x2="493.70" y2="545.30" stroke="#444" stroke-width="1.4"/>
<polygon points="451.40,539.00 451.96,540.33 453.40,540.45 452.30,541.39 452.63,542.80 451.40,542.05 450.17,542.80 450.50,541.39 449.40,540.45 450.84,540.33" fill="#1a1a1a"/>
<polygon points="455.70,539.00 456.26,540.33 457.70,540.45 456.60,541.39 456.93,542.80 455.70,542.05 454.47,542.80 454.80,541.39 453.70,540.45 455.14,540.33" fill="#1a1a1a"/>
<polygon points="460.00,539.00 460.56,540.33 462.00,540.45 460.90,541.39 461.23,542.80 460.00,542.05 458.77,542.80 459.10,541.39 458.00,540.45 459.44,540.33" fill="#1a1a1a"/>
<line x1="449.40" y1="558.40" x2="497.90" y2="558.40" stroke="#444" stroke-width="1.4"/>
<polygon points="469.35,552.10 469.91,553.43 471.35,553.55 470.25,554.49 470.58,555.90 469.35,555.15 468.12,555.90 468.45,554.49 467.35,553.55 468.79,553.43" fill="#1a1a1a"/>
<polygon points="473.65,552.10 474.21,553.43 475.65,553.55 474.55,554.49 474.88,555.90 473.65,555.15 472.42,555.90 472.75,554.49 471.65,553.55 473.09,553.43" fill="#1a1a1a"/>
<polygon points="477.95,552.10 478.51,553.43 479.95,553.55 478.85,554.49 479.18,555.90 477.95,555.15 476.72,555.90 477.05,554.49 475.95,553.55 477.39,553.43" fill="#1a1a1a"/>
<line x1="467.30" y1="569.50" x2="497.90" y2="569.50" stroke="#444" stroke-width="1.4"/>
<polygon points="478.30,563.20 478.86,564.53 480.30,564.65 479.20,565.59 479.53,567.00 478.30,566.25 477.07,567.00 477.40,565.59 476.30,564.65 477.74,564.53" fill="#1a1a1a"/>
<polygon points="482.60,563.20 483.16,564.53 484.60,564.65 483.50,565.59 483.83,567.00 482.60,566.25 481.37,567.00 481.70,565.59 480.60,564.65 482.04,564.53" fill="#1a1a1a"/>
<polygon points="486.90,563.20 487.46,564.53 488.90,564.65 487.80,565.59 488.13,567.00 486.90,566.25 485.67,567.00 486.00,565.59 484.90,564.65 486.34,564.53" fill="#1a1a1a"/>
<rect x="0.5" y="0.5" width="519" height="763" fill="none" stroke="#3a3a3a" stroke-width="1"/>
</svg></body></html>
